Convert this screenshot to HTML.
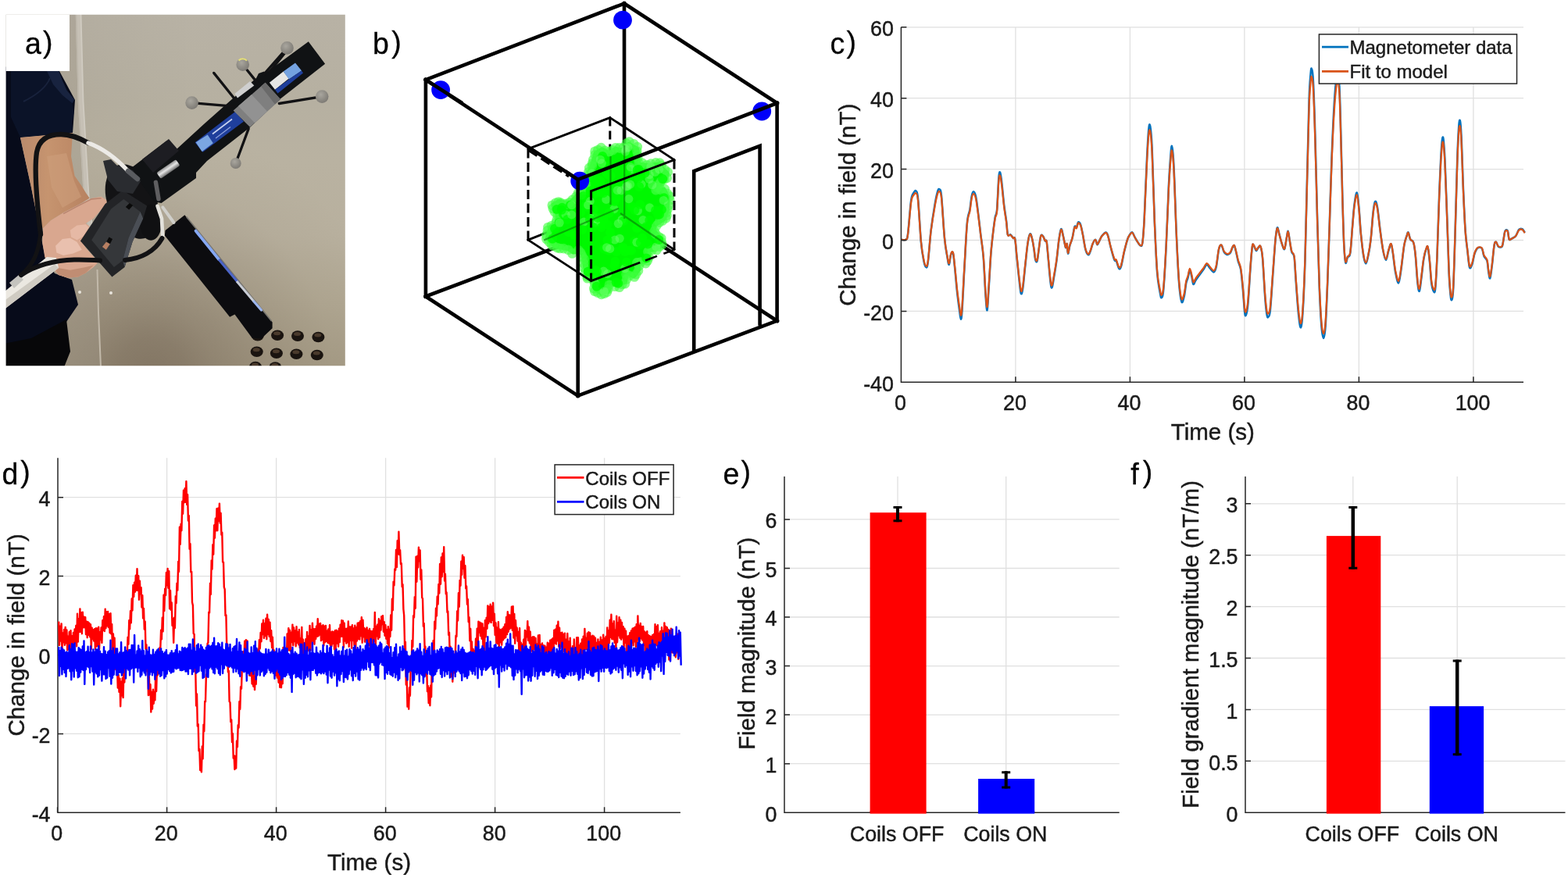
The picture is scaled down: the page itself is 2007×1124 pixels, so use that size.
<!DOCTYPE html>
<html lang="en">
<head>
<meta charset="utf-8">
<title>Figure: field nulling with coils</title>
<style>
html,body{margin:0;padding:0;background:#fff;}
body{width:2007px;height:1124px;overflow:hidden;}
svg{display:block;}
svg text{font-family:"Liberation Sans", sans-serif;fill:#1a1a1a;stroke:#1a1a1a;stroke-width:0.45px;}
</style>
</head>
<body>
<svg width="2007" height="1124" viewBox="0 0 2007 1124">
<defs><filter id="soft" x="0" y="0" width="100%" height="100%" filterUnits="userSpaceOnUse" color-interpolation-filters="sRGB"><feGaussianBlur stdDeviation="0.5"/></filter></defs>
<rect width="2007" height="1124" fill="#fff"/>
<defs>
<clipPath id="pa-clip"><rect x="7.6" y="18.8" width="434.2" height="449.4"/></clipPath>
<linearGradient id="pa-wall" gradientUnits="userSpaceOnUse" x1="0" y1="18" x2="0" y2="468"><stop offset="0" stop-color="#b8b2a5"/><stop offset="0.25" stop-color="#b6b0a1"/><stop offset="0.42" stop-color="#b9b2a1"/><stop offset="0.63" stop-color="#b8b09e"/><stop offset="0.82" stop-color="#b0a792"/><stop offset="1" stop-color="#a69c86"/></linearGradient><linearGradient id="pa-wallv" x1="0" y1="0" x2="1" y2="0"><stop offset="0" stop-color="#4a4030" stop-opacity="0.08"/><stop offset="0.3" stop-color="#4a4030" stop-opacity="0.03"/><stop offset="0.55" stop-color="#4a5030" stop-opacity="0"/><stop offset="1" stop-color="#4a5a30" stop-opacity="0"/></linearGradient>
<radialGradient id="pa-shade" cx="0.43" cy="1" r="0.68"><stop offset="0" stop-color="#6f6050" stop-opacity="0.62"/><stop offset="0.14" stop-color="#6f6050" stop-opacity="0.54"/><stop offset="0.26" stop-color="#6f6050" stop-opacity="0.4"/><stop offset="0.5" stop-color="#6f6050" stop-opacity="0.2"/><stop offset="0.75" stop-color="#6f6050" stop-opacity="0.05"/><stop offset="1" stop-color="#6f6050" stop-opacity="0"/></radialGradient>
<linearGradient id="pa-arm" x1="0" y1="0" x2="1" y2="0"><stop offset="0" stop-color="#b98a6c"/><stop offset="0.4" stop-color="#c6946f"/><stop offset="1" stop-color="#b78261"/></linearGradient>
<linearGradient id="pa-silver" x1="0" y1="0" x2="0" y2="1"><stop offset="0" stop-color="#8d8d8d"/><stop offset="0.45" stop-color="#e6e6e6"/><stop offset="1" stop-color="#6a6a6a"/></linearGradient>
<radialGradient id="pa-ball" cx="0.4" cy="0.35" r="0.7"><stop offset="0" stop-color="#a9a69e"/><stop offset="1" stop-color="#7b7872"/></radialGradient>
<filter id="pa-blur" x="-5%" y="-5%" width="110%" height="110%" color-interpolation-filters="sRGB"><feGaussianBlur stdDeviation="0.75"/></filter>
</defs>
<g id="pa" clip-path="url(#pa-clip)">
<g filter="url(#pa-blur)">
<rect x="0" y="10" width="452" height="468" fill="url(#pa-wall)"/>
<rect x="0" y="10" width="452" height="468" fill="url(#pa-wallv)"/>
<rect x="0" y="10" width="452" height="468" fill="url(#pa-shade)"/>
<path d="M89 18L97 18L101 150L108 250L114 300L124.5 340L129 470L0 470L0 18Z" fill="#a39b8c" fill-opacity="0.35"/>
<path d="M100 18L103 130L110 250L116 300" fill="none" stroke="#c6c0b5" stroke-width="6.5"/>
<path d="M97.5 18L100.5 130L107.5 250L113 300" fill="none" stroke="#bdb7ab" stroke-width="1.6"/>
<path d="M103.5 18L106.5 130L113.5 250L119 300" fill="none" stroke="#d0cbc1" stroke-width="1.8"/>
<path d="M124.5 345L126 400L129 470" fill="none" stroke="#c2b9aa" stroke-width="2"/>
<circle cx="102" cy="374" r="2" fill="#e8e4dc"/><circle cx="142" cy="375" r="2" fill="#e8e4dc"/>
<ellipse cx="329.8" cy="429.7" rx="8" ry="6.8" fill="#1a1410"/>
<ellipse cx="329.3" cy="427.2" rx="4.5" ry="2.5" fill="#4a3a2c"/>
<ellipse cx="355.1" cy="429.2" rx="8" ry="6.8" fill="#1a1410"/>
<ellipse cx="354.6" cy="426.7" rx="4.5" ry="2.5" fill="#4a3a2c"/>
<ellipse cx="381" cy="430.1" rx="8" ry="6.8" fill="#1a1410"/>
<ellipse cx="380.5" cy="427.6" rx="4.5" ry="2.5" fill="#4a3a2c"/>
<ellipse cx="407.4" cy="431.5" rx="8" ry="6.8" fill="#1a1410"/>
<ellipse cx="406.9" cy="429" rx="4.5" ry="2.5" fill="#4a3a2c"/>
<ellipse cx="328.7" cy="450.3" rx="8" ry="6.8" fill="#1a1410"/>
<ellipse cx="328.2" cy="447.8" rx="4.5" ry="2.5" fill="#4a3a2c"/>
<ellipse cx="353.9" cy="452.2" rx="8" ry="6.8" fill="#1a1410"/>
<ellipse cx="353.4" cy="449.7" rx="4.5" ry="2.5" fill="#4a3a2c"/>
<ellipse cx="379.4" cy="453.3" rx="8" ry="6.8" fill="#1a1410"/>
<ellipse cx="378.9" cy="450.8" rx="4.5" ry="2.5" fill="#4a3a2c"/>
<ellipse cx="405.8" cy="454.5" rx="8" ry="6.8" fill="#1a1410"/>
<ellipse cx="405.3" cy="452" rx="4.5" ry="2.5" fill="#4a3a2c"/>
<ellipse cx="327" cy="469.5" rx="8" ry="6.8" fill="#1a1410"/>
<ellipse cx="326.5" cy="467" rx="4.5" ry="2.5" fill="#4a3a2c"/>
<ellipse cx="352.3" cy="470" rx="8" ry="6.8" fill="#1a1410"/>
<ellipse cx="351.8" cy="467.5" rx="4.5" ry="2.5" fill="#4a3a2c"/>
<path d="M0 85L76 91L96 128L93 170L26 176L40 240L50 290L58 330L70 350L92 358L100 390L85 412L80 470L0 470Z" fill="#070b1a"/>
<path d="M14 91L75.2 91L79.4 102L85.4 115.4L95.1 127.5L92.7 132.3L94.5 144.4L92.1 158L93 170L26 176L14 150Z" fill="#0b1328"/>
<path d="M60 91L75.2 91L79.4 102L85.4 115.4L95.1 127.5L92.7 132.3L80 122L68 108Z" fill="#18233f"/>
<path d="M30 130C50 120 60 110 64 100" fill="none" stroke="#18223c" stroke-width="2"/>
<path d="M0 441L40 433L85 409L90 450L82 470L0 470Z" fill="#070709"/>
<path d="M26 176L60 173L93 170L91 200L95.5 225L104.5 238L110 247L114.7 253.7L99.8 262.4L81.1 272.3L64.9 282.3L54.9 292.3L50 290L40 240Z" fill="url(#pa-arm)"/>
<path d="M60 200L85 196L95 232L104 252L80 266L66 240Z" fill="#cd9f7c" fill-opacity="0.6"/>
<path d="M54.9 292.3L64.9 282.3L81.1 272.3L99.8 262.4L117.2 253.7L129.7 251.8L137.1 256.8L135.9 261.1L127.2 271.1L119.7 279.8L109.7 286L114.7 289.8L109.7 299.7L104.8 307.2L109.7 317.2L119.7 328.4L124.7 337.1L119.7 342.1L109.7 349.6L99.8 354.5L87.3 355.8L74.9 352L66.2 342.1L57.4 329.6L54.3 310.9Z" fill="#d9a78f"/>
<path d="M89.8 294.8L98.5 288.5L109.7 287.3L113.5 291L107.2 302.2L98.5 307.2L91.1 303.5Z" fill="#e6b9a5"/>
<path d="M71.1 314.7L79.9 306L89.8 304.7L98.5 309.7L104.8 319.7L93.5 324.6L81.1 327.1L72.4 323.4Z" fill="#e9c0ae"/>
<path d="M68.6 342.1L89.8 345.8L109.7 342.1L119.7 339.6L109.7 349.6L99.8 354.5L87.3 355.8L74.9 352Z" fill="#c08d73"/>
<path d="M81.1 273.6L99.8 263.6L117.2 254.9L129.7 253.7" fill="none" stroke="#b98670" stroke-width="1.6"/>
<ellipse cx="169" cy="258" rx="31" ry="50" fill="#131315" transform="rotate(-22 169 258)"/>
<ellipse cx="193.2" cy="284.8" rx="14" ry="23" fill="#101012"/>
<path d="M236.4 275.2L348.6 412.5L348.6 420.2L334.2 433.8L322.9 433L300.5 402.5L294.1 405.7L210.8 301.6L211.5 295Z" fill="#0c0c0f"/>
<path d="M238.5 277.5L347.5 411" fill="none" stroke="#77756f" stroke-width="1.6"/>
<path d="M250.5 295.5L280 332" fill="none" stroke="#86a8f4" stroke-width="3.6" stroke-linecap="round"/>
<path d="M280 332L305 362" fill="none" stroke="#4d66c8" stroke-width="3.2"/>
<path d="M303 360L325 386" fill="none" stroke="#c9cdd6" stroke-width="3.0"/>
<path d="M325 386L334.5 397" fill="none" stroke="#9db6ee" stroke-width="3.2" stroke-linecap="round"/>
<path d="M394.8 53.3L416.1 81.8L357 128L320 163L265 206L251 221L251 228L206.5 260L197.6 258.3L179.8 233.4L167.4 215.6L213.6 180L225.7 191.2L262 158L298.6 125.4L328 100L331 94L338 91.5L340 93.4Z" fill="#101214"/>
<path d="M182 204L216 178L229 193L196 221Z" fill="#1d1d22"/>
<rect x="-15" y="-4.8" width="30" height="9.6" rx="2" fill="url(#pa-silver)" transform="translate(215.4 216.5) rotate(-34.5)"/>
<path d="M199.4 233.4L203 254.7" fill="none" stroke="#5e5e60" stroke-width="5.5" stroke-linecap="round"/>
<path d="M201.5 263.6L207 280L208.3 304.6" fill="none" stroke="#e4e2dc" stroke-width="4.6" stroke-linecap="round"/>
<path d="M208.3 265.4L222.5 285" fill="none" stroke="#d0cfca" stroke-width="4" stroke-linecap="round"/>
<path d="M249.7 182.3L259.5 194.8L312 155.5L301 143Z" fill="#1f3f9c"/>
<path d="M250.6 182.3L258.6 193.9L272.8 183.2L265.7 172.6Z" fill="#7ba6e2"/>
<path d="M272 171.5L297 152.5" fill="none" stroke="#c9d4f0" stroke-width="1.6"/>
<path d="M276 177L295 162.5" fill="none" stroke="#8fa2dc" stroke-width="1.2"/>
<path d="M344.9 105.8L352 114.7L369.8 100.5L362.7 91.6Z" fill="#e6e6e4"/>
<path d="M362.7 91.6L369.8 101.4L386 90.5L378 80.5Z" fill="#74a2e0"/>
<path d="M352 114.7L355.5 119.5L388 93.5L386 90.5L369.8 101.4Z" fill="#1f3f9c"/>
<path d="M367.5 61.4L337.8 95.2" fill="none" stroke="#121214" stroke-width="3.3" stroke-linecap="round"/>
<path d="M310.7 82.7L330.7 107.6" fill="none" stroke="#121214" stroke-width="3.3" stroke-linecap="round"/>
<path d="M245.6 131.6L298.6 136.1" fill="none" stroke="#121214" stroke-width="3.3" stroke-linecap="round"/>
<path d="M412.2 123.6L357.3 132.5" fill="none" stroke="#121214" stroke-width="3.3" stroke-linecap="round"/>
<path d="M301.7 209L318.2 164.6" fill="none" stroke="#121214" stroke-width="3.3" stroke-linecap="round"/>
<path d="M273.7 93.4L302.2 129" fill="none" stroke="#121214" stroke-width="3.3" stroke-linecap="round"/>
<path d="M371 60L345 92" fill="none" stroke="#121214" stroke-width="3.3" stroke-linecap="round"/>
<path d="M300.4 120.1L320 104.1L325.3 109.4L304 125.4Z" fill="#cfcfcf"/>
<path d="M298.6 141.4L339.6 105.8L359.1 127.2L320 162.8Z" fill="#7f7f7f"/>
<path d="M305 135.7L322 121L342 142.5L326 157.2Z" fill="#929292"/>
<path d="M334 110.5L339.6 105.8L359.1 127.2L352 133.5Z" fill="#6a6a6a"/>
<circle cx="367.5" cy="61.4" r="8.3" fill="url(#pa-ball)"/>
<circle cx="310.7" cy="82.7" r="8.3" fill="url(#pa-ball)"/>
<circle cx="245.6" cy="131.6" r="8.3" fill="url(#pa-ball)"/>
<circle cx="412.2" cy="123.6" r="8.3" fill="url(#pa-ball)"/>
<circle cx="301.7" cy="209" r="7.0" fill="url(#pa-ball)"/>
<path d="M305.5 77.5A7.3 7.3 0 0 1 316 77.6" stroke="#e6e07a" stroke-width="2" fill="none"/>
<path d="M102.9 308.5L134.6 261.1L157.1 243.7L188.2 263.6L183.2 279.8L169.5 309.7L159.6 342.1L143.4 354.5Z" fill="#232427"/>
<path d="M117.2 307.2L142.1 267.4L158.3 254.9L179.5 271.1L164.5 304.7L157.1 333.4L145.9 342.1Z" fill="#35373a"/>
<path d="M179.5 271.1L183.2 279.8L169.5 309.7L159.6 342.1L157.1 333.4L164.5 304.7Z" fill="#4a4e55"/>
<path d="M130.9 315.9L135.9 309.7L140.9 312.2L135.9 319.7Z" fill="#b77f62"/>
<path d="M136.5 309.1L139.6 303.5L144 306L140.9 312.2Z" fill="#0a0a0a"/>
<path d="M160.8 264.9L165.8 259.9L170.1 263L165.2 268.6Z" fill="#0a0a0a"/>
<path d="M132 206L142 204L150 212L170 218L180 232L170 248L150 245L138 230Z" fill="#2a2c30"/>
<path d="M0 378L22 360L60 329L72 330L75 343L0 400Z" fill="#ebe8e1"/>
<path d="M0 389L70 338L75 343L0 400Z" fill="#cfcbc2"/>
<path d="M12 362L24 352L30 358L18 369Z" fill="#c4c3be"/>
<path d="M52 300C46 250 44 215 47 195C50 178 62 172 78 172C92 172 104 178 113 183" fill="none" stroke="#121214" stroke-width="6.3" stroke-linecap="round" stroke-linejoin="round"/>
<path d="M113 183C132 190 150 204 164 219" fill="none" stroke="#eceae6" stroke-width="5.4" stroke-linecap="round" stroke-linejoin="round"/>
<path d="M164 219L176 229" fill="none" stroke="#5a5c60" stroke-width="6.5" stroke-linecap="round" stroke-linejoin="round"/>
<path d="M52 298C50 320 44 338 27 352" fill="none" stroke="#121214" stroke-width="5.4" stroke-linecap="round" stroke-linejoin="round"/>
<path d="M27 352C45 340 70 333 95 332.5C108 332 118 333 128 333.5" fill="none" stroke="#121214" stroke-width="6" stroke-linecap="round" stroke-linejoin="round"/>
<path d="M160 333C180 331 198 322 207.5 305" fill="none" stroke="#121214" stroke-width="6" stroke-linecap="round" stroke-linejoin="round"/>
</g>
<rect x="0" y="10" width="89" height="81" fill="#fff"/>
</g>
<g filter="url(#soft)">
<g id="pb" fill="none" stroke="#000" stroke-linecap="square">
<path d="M544.9 379.5L799.8 283.6M799.8 283.6L994.6 410.7M799 4.5L799.2 283" stroke-width="4.6"/>
<path d="M676 307.1L780.8 265.6M780.8 265.6L863 319.6" stroke-width="2.8"/>
<path d="M780.8 150.6L780.8 265.6" stroke-width="3" stroke-dasharray="11 6" stroke-linecap="butt"/>
<g stroke="none">
<path d="M805.2 185.5L814.8 191.3L816.7 210.5L826.3 212.4L841.7 211.5L853.2 222L851.3 229.7L841.7 237.4L837.9 245.1L849.4 243.2L854.2 252.8L853.2 268.1L849.4 279.7L837.9 287.4L835.9 295.1L843.6 304.7L846.5 312.4L839.8 318.1L828.2 320L830.2 327.7L824.4 334.5L814.8 333.5L816.7 345L811 352.7L801.3 348.9L799.4 360.4L791.7 364.2L780.2 362.3L778.3 371.9L770.6 374.8L762.9 370L761 356.6L753.3 354.6L749.5 341.2L747.5 325.8L741.8 320L734.1 322L728.3 318.1L711 314.3L701.4 304.7L705.3 291.2L712.9 285.4L714.9 275.8L711 268.1L709.1 262.4L716.8 258.5L728.3 262.4L737.9 252.8L741.8 247L749.5 245.1L753.3 225.9L759.1 210.5L762.9 197L770.6 192.2L780.2 197L787.9 191.3L797.5 193.2L801.3 187.4Z" fill="#00f800" stroke="#1cfa1c" stroke-width="7" stroke-linejoin="round"/>
<circle cx="805.4" cy="181.5" r="6.3" fill="#3dff3d" fill-opacity="0.62"/><circle cx="811.2" cy="184.3" r="6.3" fill="#3dff3d" fill-opacity="0.62"/><circle cx="815.8" cy="188" r="6.3" fill="#3dff3d" fill-opacity="0.62"/><circle cx="815.2" cy="193.3" r="6.3" fill="#3dff3d" fill-opacity="0.62"/><circle cx="815.6" cy="198.1" r="6.3" fill="#3dff3d" fill-opacity="0.62"/><circle cx="816.2" cy="202.2" r="6.3" fill="#3dff3d" fill-opacity="0.62"/><circle cx="817.6" cy="208.9" r="6.3" fill="#3dff3d" fill-opacity="0.62"/><circle cx="821.8" cy="208.5" r="6.3" fill="#3dff3d" fill-opacity="0.62"/><circle cx="828" cy="211.2" r="6.3" fill="#3dff3d" fill-opacity="0.62"/><circle cx="833.2" cy="209.6" r="6.3" fill="#3dff3d" fill-opacity="0.62"/><circle cx="839.4" cy="208.4" r="6.3" fill="#3dff3d" fill-opacity="0.62"/><circle cx="844.4" cy="208.6" r="6.3" fill="#3dff3d" fill-opacity="0.62"/><circle cx="846.7" cy="211.9" r="6.3" fill="#3dff3d" fill-opacity="0.62"/><circle cx="851" cy="217.2" r="6.3" fill="#3dff3d" fill-opacity="0.62"/><circle cx="854.7" cy="220.3" r="6.3" fill="#3dff3d" fill-opacity="0.62"/><circle cx="853.8" cy="227.7" r="6.3" fill="#3dff3d" fill-opacity="0.62"/><circle cx="850.3" cy="229.6" r="6.3" fill="#3dff3d" fill-opacity="0.62"/><circle cx="845.8" cy="232.6" r="6.3" fill="#3dff3d" fill-opacity="0.62"/><circle cx="844" cy="235.8" r="6.3" fill="#3dff3d" fill-opacity="0.62"/><circle cx="841.1" cy="240.1" r="6.3" fill="#3dff3d" fill-opacity="0.62"/><circle cx="839.5" cy="243.4" r="6.3" fill="#3dff3d" fill-opacity="0.62"/><circle cx="846.3" cy="243.4" r="6.3" fill="#3dff3d" fill-opacity="0.62"/><circle cx="850.9" cy="242.1" r="6.3" fill="#3dff3d" fill-opacity="0.62"/><circle cx="854.1" cy="247.8" r="6.3" fill="#3dff3d" fill-opacity="0.62"/><circle cx="857" cy="251.3" r="6.3" fill="#3dff3d" fill-opacity="0.62"/><circle cx="857.3" cy="256.2" r="6.3" fill="#3dff3d" fill-opacity="0.62"/><circle cx="855.6" cy="263.1" r="6.3" fill="#3dff3d" fill-opacity="0.62"/><circle cx="854.6" cy="267.7" r="6.3" fill="#3dff3d" fill-opacity="0.62"/><circle cx="853.1" cy="272.1" r="6.3" fill="#3dff3d" fill-opacity="0.62"/><circle cx="853.5" cy="275.9" r="6.3" fill="#3dff3d" fill-opacity="0.62"/><circle cx="852.4" cy="279.2" r="6.3" fill="#3dff3d" fill-opacity="0.62"/><circle cx="848" cy="282.5" r="6.3" fill="#3dff3d" fill-opacity="0.62"/><circle cx="843.8" cy="284.8" r="6.3" fill="#3dff3d" fill-opacity="0.62"/><circle cx="840.4" cy="288.7" r="6.3" fill="#3dff3d" fill-opacity="0.62"/><circle cx="837.5" cy="295.9" r="6.3" fill="#3dff3d" fill-opacity="0.62"/><circle cx="839.2" cy="299.3" r="6.3" fill="#3dff3d" fill-opacity="0.62"/><circle cx="843.3" cy="303.3" r="6.3" fill="#3dff3d" fill-opacity="0.62"/><circle cx="846.3" cy="305" r="6.3" fill="#3dff3d" fill-opacity="0.62"/><circle cx="846.8" cy="309.8" r="6.3" fill="#3dff3d" fill-opacity="0.62"/><circle cx="847.4" cy="313.3" r="6.3" fill="#3dff3d" fill-opacity="0.62"/><circle cx="844.3" cy="315.5" r="6.3" fill="#3dff3d" fill-opacity="0.62"/><circle cx="840.5" cy="320" r="6.3" fill="#3dff3d" fill-opacity="0.62"/><circle cx="834.7" cy="319.8" r="6.3" fill="#3dff3d" fill-opacity="0.62"/><circle cx="829.4" cy="322.2" r="6.3" fill="#3dff3d" fill-opacity="0.62"/><circle cx="830.6" cy="329.2" r="6.3" fill="#3dff3d" fill-opacity="0.62"/><circle cx="828.8" cy="333.7" r="6.3" fill="#3dff3d" fill-opacity="0.62"/><circle cx="826.5" cy="337.1" r="6.3" fill="#3dff3d" fill-opacity="0.62"/><circle cx="820.2" cy="335.5" r="6.3" fill="#3dff3d" fill-opacity="0.62"/><circle cx="815.4" cy="336.2" r="6.3" fill="#3dff3d" fill-opacity="0.62"/><circle cx="817.9" cy="340.4" r="6.3" fill="#3dff3d" fill-opacity="0.62"/><circle cx="817" cy="346.5" r="6.3" fill="#3dff3d" fill-opacity="0.62"/><circle cx="814.1" cy="351.1" r="6.3" fill="#3dff3d" fill-opacity="0.62"/><circle cx="812" cy="354.5" r="6.3" fill="#3dff3d" fill-opacity="0.62"/><circle cx="805.6" cy="352.9" r="6.3" fill="#3dff3d" fill-opacity="0.62"/><circle cx="801.5" cy="351.3" r="6.3" fill="#3dff3d" fill-opacity="0.62"/><circle cx="802" cy="357.6" r="6.3" fill="#3dff3d" fill-opacity="0.62"/><circle cx="799.9" cy="363.3" r="6.3" fill="#3dff3d" fill-opacity="0.62"/><circle cx="796.3" cy="364" r="6.3" fill="#3dff3d" fill-opacity="0.62"/><circle cx="792.9" cy="367.7" r="6.3" fill="#3dff3d" fill-opacity="0.62"/><circle cx="786.9" cy="366.8" r="6.3" fill="#3dff3d" fill-opacity="0.62"/><circle cx="779.8" cy="364.8" r="6.3" fill="#3dff3d" fill-opacity="0.62"/><circle cx="778.1" cy="370.3" r="6.3" fill="#3dff3d" fill-opacity="0.62"/><circle cx="777" cy="373.9" r="6.3" fill="#3dff3d" fill-opacity="0.62"/><circle cx="773.4" cy="375.7" r="6.3" fill="#3dff3d" fill-opacity="0.62"/><circle cx="769.7" cy="376.9" r="6.3" fill="#3dff3d" fill-opacity="0.62"/><circle cx="764.9" cy="374.6" r="6.3" fill="#3dff3d" fill-opacity="0.62"/><circle cx="761.2" cy="372.7" r="6.3" fill="#3dff3d" fill-opacity="0.62"/><circle cx="760.3" cy="369.3" r="6.3" fill="#3dff3d" fill-opacity="0.62"/><circle cx="761.1" cy="362.9" r="6.3" fill="#3dff3d" fill-opacity="0.62"/><circle cx="759.6" cy="358.7" r="6.3" fill="#3dff3d" fill-opacity="0.62"/><circle cx="751.9" cy="356.2" r="6.3" fill="#3dff3d" fill-opacity="0.62"/><circle cx="751.7" cy="353.7" r="6.3" fill="#3dff3d" fill-opacity="0.62"/><circle cx="749.5" cy="347.8" r="6.3" fill="#3dff3d" fill-opacity="0.62"/><circle cx="747.2" cy="342.2" r="6.3" fill="#3dff3d" fill-opacity="0.62"/><circle cx="747.2" cy="337.3" r="6.3" fill="#3dff3d" fill-opacity="0.62"/><circle cx="747.7" cy="331.8" r="6.3" fill="#3dff3d" fill-opacity="0.62"/><circle cx="745.1" cy="328.4" r="6.3" fill="#3dff3d" fill-opacity="0.62"/><circle cx="743.3" cy="323.5" r="6.3" fill="#3dff3d" fill-opacity="0.62"/><circle cx="740.4" cy="320.2" r="6.3" fill="#3dff3d" fill-opacity="0.62"/><circle cx="732.4" cy="324.5" r="6.3" fill="#3dff3d" fill-opacity="0.62"/><circle cx="727.3" cy="319.8" r="6.3" fill="#3dff3d" fill-opacity="0.62"/><circle cx="721.4" cy="318.1" r="6.3" fill="#3dff3d" fill-opacity="0.62"/><circle cx="716.7" cy="318" r="6.3" fill="#3dff3d" fill-opacity="0.62"/><circle cx="713.1" cy="317.1" r="6.3" fill="#3dff3d" fill-opacity="0.62"/><circle cx="708.1" cy="314.7" r="6.3" fill="#3dff3d" fill-opacity="0.62"/><circle cx="706" cy="313.3" r="6.3" fill="#3dff3d" fill-opacity="0.62"/><circle cx="702.8" cy="309.5" r="6.3" fill="#3dff3d" fill-opacity="0.62"/><circle cx="699.4" cy="306" r="6.3" fill="#3dff3d" fill-opacity="0.62"/><circle cx="699.3" cy="300.9" r="6.3" fill="#3dff3d" fill-opacity="0.62"/><circle cx="700.9" cy="295.1" r="6.3" fill="#3dff3d" fill-opacity="0.62"/><circle cx="701.4" cy="291" r="6.3" fill="#3dff3d" fill-opacity="0.62"/><circle cx="706" cy="289" r="6.3" fill="#3dff3d" fill-opacity="0.62"/><circle cx="711.6" cy="285.5" r="6.3" fill="#3dff3d" fill-opacity="0.62"/><circle cx="712.6" cy="281.8" r="6.3" fill="#3dff3d" fill-opacity="0.62"/><circle cx="713.6" cy="275.4" r="6.3" fill="#3dff3d" fill-opacity="0.62"/><circle cx="709.8" cy="271.1" r="6.3" fill="#3dff3d" fill-opacity="0.62"/><circle cx="707.8" cy="267" r="6.3" fill="#3dff3d" fill-opacity="0.62"/><circle cx="706.8" cy="262.7" r="6.3" fill="#3dff3d" fill-opacity="0.62"/><circle cx="711.3" cy="259.7" r="6.3" fill="#3dff3d" fill-opacity="0.62"/><circle cx="714.8" cy="258.5" r="6.3" fill="#3dff3d" fill-opacity="0.62"/><circle cx="717.5" cy="259.5" r="6.3" fill="#3dff3d" fill-opacity="0.62"/><circle cx="723.4" cy="261.1" r="6.3" fill="#3dff3d" fill-opacity="0.62"/><circle cx="727" cy="261.7" r="6.3" fill="#3dff3d" fill-opacity="0.62"/><circle cx="728.9" cy="259.2" r="6.3" fill="#3dff3d" fill-opacity="0.62"/><circle cx="732.6" cy="255.9" r="6.3" fill="#3dff3d" fill-opacity="0.62"/><circle cx="737.5" cy="251.6" r="6.3" fill="#3dff3d" fill-opacity="0.62"/><circle cx="740.1" cy="247" r="6.3" fill="#3dff3d" fill-opacity="0.62"/><circle cx="748.8" cy="243.1" r="6.3" fill="#3dff3d" fill-opacity="0.62"/><circle cx="748.3" cy="238.1" r="6.3" fill="#3dff3d" fill-opacity="0.62"/><circle cx="751.2" cy="234.7" r="6.3" fill="#3dff3d" fill-opacity="0.62"/><circle cx="750.4" cy="229.8" r="6.3" fill="#3dff3d" fill-opacity="0.62"/><circle cx="753.4" cy="224.4" r="6.3" fill="#3dff3d" fill-opacity="0.62"/><circle cx="753.3" cy="220.2" r="6.3" fill="#3dff3d" fill-opacity="0.62"/><circle cx="754.3" cy="214.9" r="6.3" fill="#3dff3d" fill-opacity="0.62"/><circle cx="757.8" cy="212.5" r="6.3" fill="#3dff3d" fill-opacity="0.62"/><circle cx="758.2" cy="209.2" r="6.3" fill="#3dff3d" fill-opacity="0.62"/><circle cx="759.3" cy="204.4" r="6.3" fill="#3dff3d" fill-opacity="0.62"/><circle cx="761.6" cy="198.2" r="6.3" fill="#3dff3d" fill-opacity="0.62"/><circle cx="761.5" cy="193.8" r="6.3" fill="#3dff3d" fill-opacity="0.62"/><circle cx="765.5" cy="192" r="6.3" fill="#3dff3d" fill-opacity="0.62"/><circle cx="769.5" cy="189.1" r="6.3" fill="#3dff3d" fill-opacity="0.62"/><circle cx="774.2" cy="192.8" r="6.3" fill="#3dff3d" fill-opacity="0.62"/><circle cx="779.7" cy="194.2" r="6.3" fill="#3dff3d" fill-opacity="0.62"/><circle cx="784.2" cy="192.2" r="6.3" fill="#3dff3d" fill-opacity="0.62"/><circle cx="787.8" cy="189.3" r="6.3" fill="#3dff3d" fill-opacity="0.62"/><circle cx="792.9" cy="189.4" r="6.3" fill="#3dff3d" fill-opacity="0.62"/><circle cx="797.9" cy="189.1" r="6.3" fill="#3dff3d" fill-opacity="0.62"/><circle cx="801.7" cy="183.6" r="6.3" fill="#3dff3d" fill-opacity="0.62"/><circle cx="721.3" cy="274.5" r="6" fill="#00ff00" fill-opacity="0.8"/><circle cx="815.1" cy="292" r="6" fill="#00ff00" fill-opacity="0.8"/><circle cx="747.4" cy="284" r="5.6" fill="#7dff7d" fill-opacity="0.4"/><circle cx="786.3" cy="339.9" r="6" fill="#00ff00" fill-opacity="0.8"/><circle cx="710" cy="292.8" r="6" fill="#00ff00" fill-opacity="0.8"/><circle cx="823.1" cy="281.7" r="5.6" fill="#7dff7d" fill-opacity="0.4"/><circle cx="787.4" cy="334.8" r="6" fill="#00ff00" fill-opacity="0.8"/><circle cx="846.9" cy="268.2" r="6" fill="#00ff00" fill-opacity="0.8"/><circle cx="796" cy="281.3" r="5.6" fill="#7dff7d" fill-opacity="0.4"/><circle cx="779" cy="320.7" r="6" fill="#00ff00" fill-opacity="0.8"/><circle cx="768.8" cy="287.1" r="6" fill="#00ff00" fill-opacity="0.8"/><circle cx="773.2" cy="373" r="5.6" fill="#7dff7d" fill-opacity="0.4"/><circle cx="712.7" cy="267.9" r="6" fill="#00ff00" fill-opacity="0.8"/><circle cx="804.1" cy="205" r="6" fill="#00ff00" fill-opacity="0.8"/><circle cx="759.6" cy="277.4" r="5.6" fill="#7dff7d" fill-opacity="0.4"/><circle cx="719.4" cy="265.7" r="6" fill="#00ff00" fill-opacity="0.8"/><circle cx="779.6" cy="246.3" r="6" fill="#00ff00" fill-opacity="0.8"/><circle cx="786.1" cy="267.6" r="5.6" fill="#7dff7d" fill-opacity="0.4"/><circle cx="798" cy="282.7" r="6" fill="#00ff00" fill-opacity="0.8"/><circle cx="763.7" cy="366.7" r="6" fill="#00ff00" fill-opacity="0.8"/><circle cx="831.1" cy="229.3" r="5.6" fill="#7dff7d" fill-opacity="0.4"/><circle cx="788.9" cy="322.3" r="6" fill="#00ff00" fill-opacity="0.8"/><circle cx="808.9" cy="264.4" r="6" fill="#00ff00" fill-opacity="0.8"/><circle cx="799.7" cy="343.6" r="5.6" fill="#7dff7d" fill-opacity="0.4"/><circle cx="769.1" cy="246.3" r="6" fill="#00ff00" fill-opacity="0.8"/><circle cx="781.5" cy="225.1" r="6" fill="#00ff00" fill-opacity="0.8"/><circle cx="821" cy="235.9" r="5.6" fill="#7dff7d" fill-opacity="0.4"/><circle cx="776.9" cy="212.4" r="6" fill="#00ff00" fill-opacity="0.8"/><circle cx="816.5" cy="290.9" r="6" fill="#00ff00" fill-opacity="0.8"/><circle cx="724.2" cy="274.8" r="5.6" fill="#7dff7d" fill-opacity="0.4"/><circle cx="831.1" cy="265.8" r="6" fill="#00ff00" fill-opacity="0.8"/><circle cx="776.1" cy="350.5" r="6" fill="#00ff00" fill-opacity="0.8"/><circle cx="758.8" cy="281.5" r="5.6" fill="#7dff7d" fill-opacity="0.4"/><circle cx="812" cy="308.7" r="6" fill="#00ff00" fill-opacity="0.8"/><circle cx="760.7" cy="248.1" r="6" fill="#00ff00" fill-opacity="0.8"/><circle cx="839.8" cy="316" r="5.6" fill="#7dff7d" fill-opacity="0.4"/><circle cx="741.8" cy="271.6" r="6" fill="#00ff00" fill-opacity="0.8"/><circle cx="718.8" cy="268.7" r="6" fill="#00ff00" fill-opacity="0.8"/><circle cx="744.6" cy="249.9" r="5.6" fill="#7dff7d" fill-opacity="0.4"/><circle cx="772.6" cy="280.7" r="6" fill="#00ff00" fill-opacity="0.8"/><circle cx="726.1" cy="281.1" r="6" fill="#00ff00" fill-opacity="0.8"/><circle cx="791.4" cy="286.3" r="5.6" fill="#7dff7d" fill-opacity="0.4"/><circle cx="819.4" cy="313.3" r="6" fill="#00ff00" fill-opacity="0.8"/><circle cx="758.2" cy="243.5" r="6" fill="#00ff00" fill-opacity="0.8"/><circle cx="815" cy="310.2" r="5.6" fill="#7dff7d" fill-opacity="0.4"/><circle cx="843.4" cy="306.9" r="6" fill="#00ff00" fill-opacity="0.8"/><circle cx="715.7" cy="285.1" r="6" fill="#00ff00" fill-opacity="0.8"/><circle cx="777.7" cy="350.6" r="5.6" fill="#7dff7d" fill-opacity="0.4"/><circle cx="791.2" cy="362.7" r="6" fill="#00ff00" fill-opacity="0.8"/><circle cx="808" cy="320.8" r="6" fill="#00ff00" fill-opacity="0.8"/><circle cx="786.8" cy="307" r="5.6" fill="#7dff7d" fill-opacity="0.4"/><circle cx="798.3" cy="318.1" r="6" fill="#00ff00" fill-opacity="0.8"/><circle cx="777.4" cy="287.5" r="6" fill="#00ff00" fill-opacity="0.8"/><circle cx="804" cy="188.8" r="5.6" fill="#7dff7d" fill-opacity="0.4"/><circle cx="817.1" cy="228" r="6" fill="#00ff00" fill-opacity="0.8"/><circle cx="815.8" cy="218.1" r="6" fill="#00ff00" fill-opacity="0.8"/><circle cx="775.9" cy="255.4" r="5.6" fill="#7dff7d" fill-opacity="0.4"/><circle cx="773.3" cy="318.8" r="6" fill="#00ff00" fill-opacity="0.8"/><circle cx="822.2" cy="304.7" r="6" fill="#00ff00" fill-opacity="0.8"/><circle cx="801.1" cy="191.2" r="5.6" fill="#7dff7d" fill-opacity="0.4"/><circle cx="818.2" cy="239" r="6" fill="#00ff00" fill-opacity="0.8"/><circle cx="806.1" cy="320.5" r="6" fill="#00ff00" fill-opacity="0.8"/><circle cx="806.7" cy="236.1" r="5.6" fill="#7dff7d" fill-opacity="0.4"/><circle cx="779.7" cy="272.7" r="6" fill="#00ff00" fill-opacity="0.8"/><circle cx="771.2" cy="199.9" r="6" fill="#00ff00" fill-opacity="0.8"/><circle cx="843.7" cy="216.9" r="5.6" fill="#7dff7d" fill-opacity="0.4"/><circle cx="768.3" cy="231.5" r="6" fill="#00ff00" fill-opacity="0.8"/><circle cx="727.8" cy="297.3" r="6" fill="#00ff00" fill-opacity="0.8"/><circle cx="716.1" cy="285.2" r="5.6" fill="#7dff7d" fill-opacity="0.4"/><circle cx="831.3" cy="282" r="6" fill="#00ff00" fill-opacity="0.8"/><circle cx="768.6" cy="238.5" r="6" fill="#00ff00" fill-opacity="0.8"/><circle cx="755.2" cy="257.6" r="5.6" fill="#7dff7d" fill-opacity="0.4"/><circle cx="753.3" cy="265" r="6" fill="#00ff00" fill-opacity="0.8"/><circle cx="778.8" cy="214.9" r="6" fill="#00ff00" fill-opacity="0.8"/><circle cx="816.4" cy="269.8" r="5.6" fill="#7dff7d" fill-opacity="0.4"/><circle cx="819.8" cy="310.5" r="6" fill="#00ff00" fill-opacity="0.8"/><circle cx="772.2" cy="247.2" r="6" fill="#00ff00" fill-opacity="0.8"/><circle cx="803.4" cy="238.2" r="5.6" fill="#7dff7d" fill-opacity="0.4"/><circle cx="786.6" cy="257.9" r="6" fill="#00ff00" fill-opacity="0.8"/><circle cx="776.4" cy="221.2" r="6" fill="#00ff00" fill-opacity="0.8"/><circle cx="768.4" cy="204.3" r="5.6" fill="#7dff7d" fill-opacity="0.4"/><circle cx="788.7" cy="361.6" r="6" fill="#00ff00" fill-opacity="0.8"/><circle cx="819.3" cy="261.8" r="6" fill="#00ff00" fill-opacity="0.8"/><circle cx="762.3" cy="285.2" r="5.6" fill="#7dff7d" fill-opacity="0.4"/><circle cx="756" cy="246.1" r="6" fill="#00ff00" fill-opacity="0.8"/><circle cx="777.5" cy="307.4" r="6" fill="#00ff00" fill-opacity="0.8"/><circle cx="838.5" cy="220.4" r="5.6" fill="#7dff7d" fill-opacity="0.4"/><circle cx="759.9" cy="268.7" r="6" fill="#00ff00" fill-opacity="0.8"/><circle cx="844.1" cy="274.5" r="6" fill="#00ff00" fill-opacity="0.8"/><circle cx="780.7" cy="318.4" r="5.6" fill="#7dff7d" fill-opacity="0.4"/><circle cx="801.9" cy="335.8" r="6" fill="#00ff00" fill-opacity="0.8"/><circle cx="769.7" cy="290.9" r="6" fill="#00ff00" fill-opacity="0.8"/><circle cx="801.6" cy="238.8" r="5.6" fill="#7dff7d" fill-opacity="0.4"/><circle cx="800" cy="321.9" r="6" fill="#00ff00" fill-opacity="0.8"/><circle cx="781.1" cy="297.6" r="6" fill="#00ff00" fill-opacity="0.8"/><circle cx="757.9" cy="222" r="5.6" fill="#7dff7d" fill-opacity="0.4"/><circle cx="743.2" cy="271.8" r="6" fill="#00ff00" fill-opacity="0.8"/><circle cx="842.1" cy="274.9" r="6" fill="#00ff00" fill-opacity="0.8"/><circle cx="776.6" cy="316.8" r="5.6" fill="#7dff7d" fill-opacity="0.4"/><circle cx="763.3" cy="229.1" r="6" fill="#00ff00" fill-opacity="0.8"/><circle cx="749.4" cy="263.4" r="6" fill="#00ff00" fill-opacity="0.8"/><circle cx="807.9" cy="216.6" r="5.6" fill="#7dff7d" fill-opacity="0.4"/><circle cx="827.3" cy="330.4" r="6" fill="#00ff00" fill-opacity="0.8"/><circle cx="777.7" cy="218.1" r="6" fill="#00ff00" fill-opacity="0.8"/><circle cx="831.2" cy="223.5" r="5.6" fill="#7dff7d" fill-opacity="0.4"/><circle cx="776.2" cy="214.3" r="6" fill="#00ff00" fill-opacity="0.8"/><circle cx="729.9" cy="262.7" r="6" fill="#00ff00" fill-opacity="0.8"/><circle cx="804.8" cy="254.6" r="5.6" fill="#7dff7d" fill-opacity="0.4"/><circle cx="755.5" cy="244.7" r="6" fill="#00ff00" fill-opacity="0.8"/><circle cx="752.6" cy="347.8" r="6" fill="#00ff00" fill-opacity="0.8"/><circle cx="831.6" cy="265.9" r="5.6" fill="#7dff7d" fill-opacity="0.4"/><circle cx="761.8" cy="345.7" r="6" fill="#00ff00" fill-opacity="0.8"/><circle cx="848.2" cy="229" r="6" fill="#00ff00" fill-opacity="0.8"/><circle cx="731.7" cy="274.9" r="5.6" fill="#7dff7d" fill-opacity="0.4"/><circle cx="757.6" cy="227.8" r="6" fill="#00ff00" fill-opacity="0.8"/><circle cx="765" cy="278.7" r="6" fill="#00ff00" fill-opacity="0.8"/><circle cx="795.1" cy="243.9" r="5.6" fill="#7dff7d" fill-opacity="0.4"/><circle cx="746.3" cy="251.1" r="6" fill="#00ff00" fill-opacity="0.8"/><circle cx="812.5" cy="269" r="6" fill="#00ff00" fill-opacity="0.8"/><circle cx="731.8" cy="262.6" r="5.6" fill="#7dff7d" fill-opacity="0.4"/><circle cx="797.3" cy="316.7" r="6" fill="#00ff00" fill-opacity="0.8"/><circle cx="804.8" cy="200.4" r="6" fill="#00ff00" fill-opacity="0.8"/><circle cx="834.8" cy="236.7" r="5.6" fill="#7dff7d" fill-opacity="0.4"/><circle cx="788.3" cy="253.4" r="6" fill="#00ff00" fill-opacity="0.8"/><circle cx="817.3" cy="216.8" r="6" fill="#00ff00" fill-opacity="0.8"/><circle cx="790.2" cy="243.6" r="5.6" fill="#7dff7d" fill-opacity="0.4"/><circle cx="778.2" cy="223.6" r="6" fill="#00ff00" fill-opacity="0.8"/><circle cx="829.3" cy="312.4" r="6" fill="#00ff00" fill-opacity="0.8"/><circle cx="772.6" cy="347.2" r="5.6" fill="#7dff7d" fill-opacity="0.4"/><circle cx="849.9" cy="253.2" r="6" fill="#00ff00" fill-opacity="0.8"/><circle cx="839.1" cy="269.4" r="6" fill="#00ff00" fill-opacity="0.8"/><circle cx="793.2" cy="305.3" r="5.6" fill="#7dff7d" fill-opacity="0.4"/><circle cx="735.3" cy="301" r="6" fill="#00ff00" fill-opacity="0.8"/><circle cx="802.7" cy="217.7" r="6" fill="#00ff00" fill-opacity="0.8"/><circle cx="807.2" cy="213.9" r="5.6" fill="#7dff7d" fill-opacity="0.4"/><circle cx="827" cy="290.2" r="6" fill="#00ff00" fill-opacity="0.8"/><circle cx="759.1" cy="290.7" r="6" fill="#00ff00" fill-opacity="0.8"/><circle cx="800.5" cy="194.1" r="5.6" fill="#7dff7d" fill-opacity="0.4"/><circle cx="761.6" cy="234.5" r="6" fill="#00ff00" fill-opacity="0.8"/><circle cx="745.1" cy="294.1" r="6" fill="#00ff00" fill-opacity="0.8"/><circle cx="752.7" cy="262.5" r="5.6" fill="#7dff7d" fill-opacity="0.4"/><circle cx="815.6" cy="217.8" r="6" fill="#00ff00" fill-opacity="0.8"/><circle cx="764" cy="347.5" r="6" fill="#00ff00" fill-opacity="0.8"/><circle cx="770.3" cy="209.1" r="5.6" fill="#7dff7d" fill-opacity="0.4"/><circle cx="707.1" cy="305.8" r="6" fill="#00ff00" fill-opacity="0.8"/><circle cx="755" cy="281.1" r="6" fill="#00ff00" fill-opacity="0.8"/><circle cx="849.3" cy="256.5" r="5.6" fill="#7dff7d" fill-opacity="0.4"/><circle cx="825.4" cy="221.7" r="6" fill="#00ff00" fill-opacity="0.8"/><circle cx="760.7" cy="353" r="6" fill="#00ff00" fill-opacity="0.8"/><circle cx="832.8" cy="213.4" r="5.6" fill="#7dff7d" fill-opacity="0.4"/>
</g>
<path d="M696 307.5L792 266.7M794 273L853 313M799.2 186L799.2 280M781.5 200L781.5 262" stroke="#067806" stroke-opacity="0.6" stroke-width="2.2" stroke-linecap="butt"/>
<path d="M799 4.5L544.9 102.1M799 4.5L994.6 132M544.9 102.1L739.7 229.8M544.9 102.1L544.9 379.5M994.6 132L994.6 410.7M544.9 379.5L739.7 506.6M739.7 506.6L994.6 410.7M888.2 448V219.2L972.6 186.8V414.4" stroke-width="4.6" stroke-linejoin="miter"/>
<path d="M676.5 192.5L728 226" stroke-width="3" stroke-dasharray="13 6" stroke-linecap="butt"/>
<path d="M780.8 150.6L676 190.6M780.8 150.6L863 204.6M756.6 244.6L863 204.6M676 307.1L756.6 359.6M756.6 359.6L818 336.5" stroke-width="2.8"/>
<path d="M676 190.6L676 307.1M863 204.6L863 319.6M756.6 244.6L756.6 359.6" stroke-width="3" stroke-dasharray="12 5.5" stroke-linecap="butt"/>
<path d="M826 333.5L863 319.6" stroke-width="2.6" stroke-dasharray="16 9" stroke-linecap="butt"/>
<circle cx="797" cy="25.7" r="11.9" fill="#0000fa" stroke="none"/>
<circle cx="564.1" cy="115.1" r="11.9" fill="#0000fa" stroke="none"/>
<circle cx="975.2" cy="142.5" r="11.9" fill="#0000fa" stroke="none"/>
<circle cx="742.2" cy="231.6" r="11.9" fill="#0000fa" stroke="none"/>
<path d="M739.7 229.8L994.6 132M739.7 229.8L739.7 506.6M544.9 102.1L590 131M725 220.2L739.7 229.8" stroke-width="4.6"/>
</g>
<g id="pc">
<path d="M1299.9 34.8V489.3M1446.4 34.8V489.3M1592.9 34.8V489.3M1739.4 34.8V489.3M1885.9 34.8V489.3M1153.4 398.4H1950M1153.4 307.5H1950M1153.4 216.6H1950M1153.4 125.7H1950M1153.4 34.8H1950" stroke="#e0e0e0" stroke-width="1.3" fill="none"/>
<path d="M1153.5 306.7C1154.4 306.7 1157.8 307.9 1159.3 306.7C1160.7 305.6 1160.9 308.3 1162 299.9C1163.2 291.5 1164.9 265.1 1166.2 256.2C1167.5 247.3 1168.6 248.4 1169.7 246.5C1170.7 244.5 1171.5 243.3 1172.4 244.5C1173.3 245.8 1173.9 242.9 1175 253.8C1176.1 264.6 1177.7 296.3 1178.9 309.6C1180.1 323 1181.3 328.5 1182.4 333.9C1183.4 339.3 1184.3 341.5 1185.2 341.9C1186 342.3 1186.6 344.2 1187.7 336.3C1188.8 328.5 1190.2 307.2 1191.6 295.1C1193.1 282.9 1194.9 271.6 1196.3 263.5C1197.6 255.4 1198.7 250 1199.7 246.5C1200.7 242.9 1201.4 241.3 1202.3 242.1C1203.2 242.9 1203.9 240.9 1205.1 251.3C1206.2 261.8 1207.7 291.8 1209 304.8C1210.2 317.7 1211.5 323.4 1212.5 329.1C1213.4 334.7 1214 339.3 1214.8 338.8C1215.5 338.3 1216.2 328.6 1217.1 326.1C1217.9 323.7 1219 321.3 1219.9 324.2C1220.7 327.1 1221.3 335.1 1222.2 343.6C1223.1 352.1 1224.2 366.1 1225.2 375.2C1226.2 384.3 1227.4 392.7 1228.2 398.3C1229 403.9 1229.3 408.7 1229.8 408.7C1230.3 408.7 1230.6 409.1 1231.4 398.3C1232.2 387.4 1233.3 362.5 1234.4 343.6C1235.5 324.8 1236.7 297.9 1237.9 285.3C1239.1 272.8 1240.4 274 1241.4 268.3C1242.3 262.7 1242.9 255.2 1243.7 251.3C1244.4 247.5 1245.1 245.3 1246 245.3C1246.9 245.3 1248 247.1 1249 251.3C1250 255.6 1250.7 262.7 1251.8 270.8C1252.8 278.9 1254.1 290.2 1255.2 299.9C1256.4 309.6 1257.7 316.1 1258.7 329.1C1259.8 342 1260.7 366.3 1261.5 377.6C1262.3 389 1262.9 398.7 1263.6 397.1C1264.3 395.4 1264.8 380.1 1265.7 367.9C1266.5 355.8 1267.5 336.3 1268.4 324.2C1269.4 312.1 1270.5 302.7 1271.4 295.1C1272.3 287.4 1273 282.5 1273.7 278.1C1274.5 273.6 1275.3 276.8 1276.1 268.3C1276.8 259.8 1277.7 234.9 1278.4 227.1C1279.1 219.2 1279.6 219.8 1280.2 221C1280.9 222.2 1281.5 227.3 1282.3 234.3C1283.2 241.4 1284.3 255.4 1285.3 263.5C1286.3 271.6 1287.3 276.8 1288.1 282.9C1288.9 289.1 1289.1 297.5 1289.9 300.4C1290.8 303.3 1292.3 299.7 1293.4 300.4C1294.6 301.1 1295.9 303.8 1296.9 304.8C1297.8 305.7 1298.4 301.9 1299.2 306C1300 310 1300.6 320.4 1301.5 329.1C1302.4 337.8 1303.6 350.4 1304.5 358.2C1305.4 366 1306.1 373.7 1306.8 375.7C1307.6 377.6 1308.3 375.2 1309.1 369.9C1310 364.5 1310.9 353.3 1311.9 343.6C1313 334 1314.3 319.4 1315.4 312.1C1316.5 304.7 1317.4 300.4 1318.4 299.4C1319.4 298.4 1320.3 302.7 1321.2 306C1322 309.3 1322.8 314.9 1323.5 319.3C1324.2 323.8 1324.6 330.3 1325.3 332.7C1326 335.1 1326.9 336.5 1327.6 333.9C1328.4 331.3 1329.2 322.3 1330 316.9C1330.7 311.6 1331.4 304.3 1332.3 301.9C1333.1 299.4 1334.1 301.3 1335 302.3C1336 303.4 1337 307.2 1337.8 308.4C1338.6 309.6 1339 305.4 1339.7 309.6C1340.4 313.9 1341.1 325 1342 333.9C1342.8 342.8 1344 357.4 1344.8 363.1C1345.5 368.7 1345.9 369.1 1346.6 367.9C1347.3 366.7 1348 361.4 1348.9 355.8C1349.9 350.1 1351.3 342 1352.4 333.9C1353.5 325.8 1354.4 314 1355.4 307.2C1356.4 300.4 1357.2 293.9 1358.2 293.1C1359.1 292.3 1360 298.4 1360.9 302.3C1361.9 306.3 1363.2 315.3 1364 316.9C1364.7 318.5 1365.1 310.8 1365.6 312.1C1366.1 313.4 1366.3 324.3 1367 324.7C1367.6 325.1 1368.4 317.8 1369.3 314.5C1370.2 311.2 1371.5 308.8 1372.5 304.8C1373.6 300.7 1374.6 292.4 1375.5 290.2C1376.4 288 1377.1 292.4 1377.8 291.4C1378.6 290.4 1379.3 285 1380.1 284.4C1381 283.8 1382.2 285.2 1383.2 287.8C1384.1 290.4 1384.9 294.7 1385.9 299.9C1387 305.2 1388.2 315 1389.4 319.3C1390.6 323.7 1391.8 325.7 1392.9 326.1C1393.9 326.6 1394.7 324.1 1395.6 321.8C1396.6 319.4 1397.6 314.6 1398.7 312.1C1399.7 309.6 1401.2 306.5 1402.1 306.7C1403.1 306.9 1403.6 313 1404.4 313.3C1405.3 313.6 1406.2 310.2 1407.2 308.4C1408.2 306.6 1408.8 304.2 1410.2 302.3C1411.6 300.5 1414.2 297.5 1415.5 297.5C1416.9 297.5 1417.3 299.1 1418.3 302.3C1419.4 305.6 1420.4 311.9 1421.8 316.9C1423.1 322 1425.3 329.9 1426.4 332.7C1427.6 335.5 1427.8 332.1 1428.7 333.9C1429.7 335.7 1431.1 342.4 1432.2 343.6C1433.2 344.8 1433.8 344.8 1435 341.2C1436.1 337.6 1437.7 327.6 1439.1 321.8C1440.5 315.9 1442.1 309.6 1443.3 306C1444.4 302.4 1445.1 301.9 1446.1 300.4C1447.1 298.9 1448.1 296.7 1449.2 297.3C1450.3 297.8 1451.3 301.3 1452.5 303.5C1453.7 305.7 1455.2 308.5 1456.5 310.4C1457.7 312.2 1458.8 314.5 1459.7 314.5C1460.7 314.5 1461.6 316.3 1462.4 310.4C1463.2 304.5 1463.8 297.1 1464.7 279.3C1465.6 261.4 1467 222.3 1468 203.3C1468.9 184.3 1469.6 172.2 1470.3 165.3C1471 158.3 1471.5 157.8 1472.3 161.8C1473 165.8 1473.6 169.3 1474.6 189.4C1475.5 209.6 1476.8 256.3 1477.8 282.7C1478.9 309.2 1480 333.4 1481.1 348.4C1482.2 363.4 1483.5 367.1 1484.4 372.6C1485.4 378.1 1485.9 381.8 1486.7 381.2C1487.6 380.7 1488.4 380.4 1489.4 369.1C1490.4 357.9 1491.6 335.7 1492.7 313.8C1493.8 292 1495 257.4 1495.9 237.8C1496.9 218.2 1497.9 204.7 1498.6 196.4C1499.3 188 1499.6 184.8 1500.2 187.7C1500.9 190.6 1501.6 194.9 1502.5 213.6C1503.5 232.3 1504.7 275.3 1505.8 300C1506.9 324.8 1508 347.8 1509.1 362.2C1510.2 376.6 1511.3 383.5 1512.4 386.4C1513.5 389.3 1514.7 383.5 1515.7 379.5C1516.7 375.5 1517.5 366.3 1518.3 362.2C1519.2 358.2 1519.9 358.1 1520.6 355.3C1521.4 352.6 1522.1 345.6 1522.9 345.6C1523.8 345.6 1524.8 352.3 1525.6 355.3C1526.3 358.4 1526.7 363.4 1527.5 364C1528.4 364.5 1529.2 360.8 1530.5 358.8C1531.8 356.8 1533.8 354.2 1535.4 351.9C1537.1 349.6 1538.8 347.1 1540.4 344.9C1541.9 342.8 1543.3 339 1544.7 338.7C1546 338.4 1547.1 341.6 1548.6 343.2C1550.1 344.8 1552.2 348.7 1553.5 348.4C1554.9 348.1 1555.7 346.4 1556.8 341.5C1557.9 336.6 1559 323.6 1560.1 319C1561.2 314.4 1562.3 313.3 1563.4 313.8C1564.5 314.4 1565.4 320.5 1566.7 322.5C1568 324.5 1569.6 325.8 1571 325.9C1572.4 326.1 1573.8 325.1 1574.9 323.5C1576 322 1576.7 318.1 1577.6 316.6C1578.4 315.1 1579.1 313.3 1579.9 314.5C1580.7 315.8 1581.7 320.9 1582.5 324.2C1583.3 327.6 1583.9 331.1 1584.8 334.6C1585.7 338 1587.1 339.2 1588.1 344.9C1589.1 350.7 1589.9 360.2 1590.7 369.1C1591.6 378.1 1592.4 392.8 1593 398.5C1593.7 404.3 1594 405.1 1594.7 403.7C1595.4 402.3 1596.3 400.2 1597.3 389.9C1598.3 379.5 1599.7 353.9 1600.6 341.5C1601.5 329.1 1602.3 320.2 1602.9 315.6C1603.6 311 1603.7 313 1604.6 313.8C1605.4 314.7 1606.9 320.2 1607.8 320.8C1608.8 321.3 1609.5 318.2 1610.5 317.3C1611.4 316.4 1612.5 313.3 1613.4 315.6C1614.4 317.9 1615.1 319.9 1616.1 331.1C1617.1 342.4 1618.4 370.9 1619.4 383C1620.3 395.1 1621 400 1621.7 403.7C1622.4 407.4 1622.9 406.6 1623.6 405.4C1624.4 404.3 1625 405.7 1625.9 396.8C1626.9 387.9 1628.1 366.8 1629.2 351.9C1630.3 336.9 1631.6 317 1632.5 306.9C1633.5 296.9 1634 292.5 1634.8 291.4C1635.7 290.2 1636.5 296.6 1637.5 300C1638.5 303.5 1639.7 309 1640.8 312.1C1641.9 315.3 1643.1 320.2 1644.1 319C1645 317.9 1645.9 309.1 1646.7 305.2C1647.5 301.3 1648 295.6 1648.7 295.9C1649.3 296.2 1649.9 302.5 1650.6 306.9C1651.4 311.4 1652.3 318.7 1653.3 322.5C1654.3 326.2 1655.6 322.8 1656.6 329.4C1657.5 336 1657.9 349.8 1658.9 362.2C1659.8 374.6 1661.1 394.2 1662.2 403.7C1663.2 413.2 1664.2 420.4 1665.1 419.2C1666 418.1 1666.9 410.9 1667.7 396.8C1668.6 382.7 1669.5 362.2 1670.4 334.6C1671.3 306.9 1672.1 265.5 1673 230.9C1673.9 196.4 1674.9 150 1675.6 127.2C1676.4 104.4 1677.1 100.6 1677.6 94.1C1678.2 87.6 1678.4 86.6 1678.9 88.2C1679.5 89.8 1680.1 88.6 1680.9 103.7C1681.7 118.9 1682.7 149.2 1683.5 179.1C1684.4 208.9 1685.3 251.1 1686.2 282.7C1687.1 314.4 1687.9 346.7 1688.8 369.1C1689.7 391.6 1690.6 406.9 1691.4 417.5C1692.3 428.2 1693.2 433 1694.1 433.1C1694.9 433.1 1695.7 429.5 1696.6 417.7C1697.4 405.9 1698.3 384.8 1699.2 362.4C1700.1 339.9 1701 309.4 1701.9 282.9C1702.7 256.3 1703.6 226.4 1704.5 203.3C1705.4 180.3 1706.2 160.7 1707.1 144.6C1708 128.4 1708.9 114.9 1709.8 106.5C1710.6 98.2 1711.3 93.9 1712.1 94.4C1712.8 95 1713.7 97 1714.4 110C1715.1 122.9 1715.7 148.6 1716.3 172.2C1717 195.8 1717.7 228.1 1718.3 251.7C1719 275.4 1719.6 299.8 1720.3 314C1721 328.1 1721.5 333.8 1722.3 336.4C1723 339 1723.9 331.5 1724.9 329.5C1725.9 327.5 1727.2 330.4 1728.2 324.3C1729.2 318.3 1730 303.6 1730.8 293.2C1731.7 282.9 1732.5 269.9 1733.5 262.1C1734.5 254.3 1735.8 246 1736.8 246.5C1737.7 247.1 1738.5 256.6 1739.4 265.6C1740.3 274.5 1741 289.8 1742 300.1C1743 310.5 1744.3 321.6 1745.3 327.8C1746.4 334 1747.3 337.5 1748.3 337.5C1749.3 337.5 1750.2 332.9 1751.2 327.8C1752.3 322.7 1753.5 316.3 1754.5 307.1C1755.6 297.8 1756.6 280.7 1757.5 272.5C1758.4 264.3 1759.2 259.1 1760.1 258C1761.1 256.8 1762.1 259.7 1763.1 265.6C1764.1 271.4 1765.2 284 1766.4 293.2C1767.6 302.4 1769.1 314.3 1770.3 320.9C1771.6 327.5 1772.8 333 1774 333C1775.1 333 1776.2 324.3 1777.3 320.9C1778.4 317.4 1779.6 311.7 1780.5 312.2C1781.5 312.8 1781.9 318.3 1782.9 324.3C1783.8 330.4 1784.9 342.2 1786.1 348.5C1787.4 354.9 1788.9 362.9 1790.1 362.4C1791.3 361.8 1792.2 353.1 1793.4 345.1C1794.6 337 1796.1 321.2 1797.3 314C1798.5 306.8 1799.8 304.6 1800.6 301.9C1801.5 299.1 1801.8 296.6 1802.6 297.4C1803.4 298.1 1804.1 304.2 1805.2 306.4C1806.3 308.5 1808.1 306.9 1809.2 310.5C1810.3 314.1 1811 319.2 1811.8 327.8C1812.7 336.4 1813.6 354.9 1814.5 362.4C1815.3 369.9 1815.9 373.9 1816.8 372.7C1817.6 371.6 1818.5 362.4 1819.4 355.5C1820.3 348.5 1821.3 337.5 1822.4 331.3C1823.4 325 1824.8 320.5 1825.7 318.1C1826.5 315.7 1826.9 314 1827.6 316.7C1828.3 319.5 1829.2 327.1 1829.9 334.7C1830.7 342.3 1831.4 356 1832.2 362.4C1833.1 368.7 1834.1 371.6 1834.9 372.7C1835.7 373.9 1836.4 376.8 1837.2 369.3C1838 361.8 1838.7 347.4 1839.5 327.8C1840.3 308.2 1841.2 274.2 1842.1 251.7C1843 229.3 1843.9 205.6 1844.8 193C1845.6 180.3 1846.3 173.9 1847.1 175.7C1847.8 177.4 1848.5 187.2 1849.4 203.3C1850.2 219.5 1851.1 248.3 1852 272.5C1852.9 296.7 1853.9 331 1854.6 348.5C1855.4 366.1 1856 372 1856.6 377.9C1857.2 383.8 1857.7 385.2 1858.3 383.8C1858.9 382.4 1859.5 383.2 1860.2 369.3C1860.9 355.3 1861.7 327.2 1862.5 300.1C1863.4 273.1 1864.4 229.6 1865.2 206.8C1865.9 184 1866.5 172.3 1867.1 163.6C1867.7 154.8 1868.2 152.7 1868.8 154.2C1869.3 155.8 1869.7 157.8 1870.4 172.9C1871.2 188 1872.2 224.2 1873.1 244.8C1874 265.4 1874.8 284 1875.7 296.7C1876.6 309.4 1877.5 313.3 1878.3 320.9C1879.2 328.5 1880 339.4 1881 342.3C1882 345.2 1883.2 341.2 1884.3 338.2C1885.4 335.2 1886.4 327.8 1887.6 324.3C1888.8 320.9 1890 318.5 1891.5 317.4C1893 316.4 1895.5 316.4 1896.8 318.1C1898.1 319.8 1898.3 325.1 1899.4 327.8C1900.5 330.4 1902.4 330.6 1903.4 334C1904.4 337.5 1904.7 344.9 1905.3 348.5C1906 352.2 1906.5 357.9 1907.3 356.1C1908.1 354.4 1909.1 345.2 1910 338.2C1910.8 331.1 1911.8 318.7 1912.6 314C1913.4 309.2 1914 309.5 1914.9 309.8C1915.8 310.1 1916.6 314.7 1917.9 315.7C1919.1 316.7 1921.4 317.1 1922.5 315.7C1923.6 314.3 1923.8 310.3 1924.4 307.1C1925.1 303.8 1925.5 297.9 1926.4 296C1927.3 294 1928.8 293.6 1929.7 295.3C1930.6 297 1930.8 304.7 1931.7 306.4C1932.6 308 1933.9 306.1 1935.3 305.3C1936.7 304.6 1938.8 303.8 1940.2 301.9C1941.7 300 1942.8 295.4 1944.2 293.9C1945.6 292.5 1947.2 292.6 1948.5 293.2C1949.7 293.9 1951.2 297 1951.8 297.7" stroke="#0072bd" stroke-width="2.5" fill="none" stroke-linejoin="round"/>
<path d="M1153.5 306.8C1154.4 306.8 1157.8 307.8 1159.3 306.8C1160.7 305.7 1160.9 308.3 1162 300.3C1163.2 292.3 1164.9 267.1 1166.2 258.6C1167.5 250.2 1168.6 251.2 1169.7 249.4C1170.7 247.5 1171.5 246.4 1172.4 247.5C1173.3 248.7 1173.9 246 1175 256.3C1176.1 266.7 1177.7 296.8 1178.9 309.5C1180.1 322.3 1181.3 327.5 1182.4 332.7C1183.4 337.8 1184.3 339.9 1185.2 340.3C1186 340.7 1186.6 342.4 1187.7 335C1188.8 327.5 1190.2 307.2 1191.6 295.7C1193.1 284.1 1194.9 273.3 1196.3 265.6C1197.6 257.9 1198.7 252.8 1199.7 249.4C1200.7 246 1201.4 244.5 1202.3 245.2C1203.2 246 1203.9 244.1 1205.1 254C1206.2 264 1207.7 292.6 1209 304.9C1210.2 317.2 1211.5 322.6 1212.5 328C1213.4 333.4 1214 337.7 1214.8 337.3C1215.5 336.8 1216.2 327.6 1217.1 325.3C1217.9 322.9 1219 320.6 1219.9 323.4C1220.7 326.2 1221.3 333.8 1222.2 341.9C1223.1 350 1224.2 363.3 1225.2 372C1226.2 380.7 1227.4 388.6 1228.2 394C1229 399.3 1229.3 403.9 1229.8 403.9C1230.3 403.9 1230.6 404.3 1231.4 394C1232.2 383.6 1233.3 359.8 1234.4 341.9C1235.5 324 1236.7 298.4 1237.9 286.4C1239.1 274.4 1240.4 275.6 1241.4 270.2C1242.3 264.8 1242.9 257.7 1243.7 254C1244.4 250.4 1245.1 248.2 1246 248.2C1246.9 248.2 1248 250 1249 254C1250 258.1 1250.7 264.8 1251.8 272.5C1252.8 280.2 1254.1 291 1255.2 300.3C1256.4 309.5 1257.7 315.7 1258.7 328C1259.8 340.4 1260.7 363.5 1261.5 374.3C1262.3 385.1 1262.9 394.3 1263.6 392.8C1264.3 391.3 1264.8 376.6 1265.7 365C1266.5 353.5 1267.5 335 1268.4 323.4C1269.4 311.8 1270.5 303 1271.4 295.7C1272.3 288.3 1273 283.7 1273.7 279.5C1274.5 275.2 1275.3 278.3 1276.1 270.2C1276.8 262.1 1277.7 238.4 1278.4 230.9C1279.1 223.4 1279.6 223.9 1280.2 225.1C1280.9 226.3 1281.5 231.1 1282.3 237.8C1283.2 244.6 1284.3 257.9 1285.3 265.6C1286.3 273.3 1287.3 278.2 1288.1 284.1C1288.9 289.9 1289.1 298 1289.9 300.7C1290.8 303.5 1292.3 300 1293.4 300.7C1294.6 301.4 1295.9 304 1296.9 304.9C1297.8 305.8 1298.4 302.2 1299.2 306.1C1300 309.9 1300.6 319.7 1301.5 328C1302.4 336.3 1303.6 348.4 1304.5 355.8C1305.4 363.2 1306.1 370.6 1306.8 372.4C1307.6 374.3 1308.3 372 1309.1 366.9C1310 361.8 1310.9 351.1 1311.9 341.9C1313 332.7 1314.3 318.9 1315.4 311.8C1316.5 304.8 1317.4 300.8 1318.4 299.8C1319.4 298.9 1320.3 302.9 1321.2 306.1C1322 309.2 1322.8 314.5 1323.5 318.8C1324.2 323 1324.6 329.2 1325.3 331.5C1326 333.8 1326.9 335.2 1327.6 332.7C1328.4 330.2 1329.2 321.6 1330 316.5C1330.7 311.4 1331.4 304.4 1332.3 302.1C1333.1 299.8 1334.1 301.5 1335 302.6C1336 303.6 1337 307.2 1337.8 308.4C1338.6 309.5 1339 305.5 1339.7 309.5C1340.4 313.6 1341.1 324.2 1342 332.7C1342.8 341.1 1344 355 1344.8 360.4C1345.5 365.8 1345.9 366.2 1346.6 365C1347.3 363.9 1348 358.9 1348.9 353.5C1349.9 348.1 1351.3 340.4 1352.4 332.7C1353.5 324.9 1354.4 313.7 1355.4 307.2C1356.4 300.7 1357.2 294.6 1358.2 293.8C1359.1 293 1360 298.8 1360.9 302.6C1361.9 306.4 1363.2 314.9 1364 316.5C1364.7 318 1365.1 310.6 1365.6 311.8C1366.1 313.1 1366.3 323.5 1367 323.9C1367.6 324.3 1368.4 317.3 1369.3 314.2C1370.2 311 1371.5 308.8 1372.5 304.9C1373.6 301 1374.6 293.1 1375.5 291C1376.4 288.9 1377.1 293.1 1377.8 292.2C1378.6 291.3 1379.3 286.1 1380.1 285.5C1381 284.9 1382.2 286.2 1383.2 288.7C1384.1 291.2 1384.9 295.3 1385.9 300.3C1387 305.3 1388.2 314.6 1389.4 318.8C1390.6 322.9 1391.8 324.9 1392.9 325.3C1393.9 325.6 1394.7 323.3 1395.6 321.1C1396.6 318.9 1397.6 314.2 1398.7 311.8C1399.7 309.5 1401.2 306.6 1402.1 306.8C1403.1 306.9 1403.6 312.7 1404.4 313C1405.3 313.3 1406.2 310.1 1407.2 308.4C1408.2 306.6 1408.8 304.3 1410.2 302.6C1411.6 300.9 1414.2 298 1415.5 298C1416.9 298 1417.3 299.5 1418.3 302.6C1419.4 305.7 1420.4 311.6 1421.8 316.5C1423.1 321.3 1425.3 328.8 1426.4 331.5C1427.6 334.2 1427.8 330.9 1428.7 332.7C1429.7 334.4 1431.1 340.8 1432.2 341.9C1433.2 343.1 1433.8 343.1 1435 339.6C1436.1 336.1 1437.7 326.7 1439.1 321.1C1440.5 315.5 1442.1 309.5 1443.3 306.1C1444.4 302.7 1445.1 302.1 1446.1 300.7C1447.1 299.4 1448.1 297.3 1449.2 297.7C1450.3 298.2 1451.3 301.6 1452.5 303.7C1453.7 305.8 1455.2 308.5 1456.5 310.3C1457.7 312 1458.8 314.2 1459.7 314.2C1460.7 314.2 1461.6 315.8 1462.4 310.3C1463.2 304.7 1463.8 297.6 1464.7 280.6C1465.6 263.6 1467 226.3 1468 208.2C1468.9 190.1 1469.6 178.6 1470.3 172C1471 165.4 1471.5 164.9 1472.3 168.7C1473 172.6 1473.6 175.9 1474.6 195.1C1475.5 214.3 1476.8 258.7 1477.8 283.9C1478.9 309.2 1480 332.2 1481.1 346.5C1482.2 360.7 1483.5 364.3 1484.4 369.5C1485.4 374.7 1485.9 378.3 1486.7 377.7C1487.6 377.2 1488.4 376.9 1489.4 366.2C1490.4 355.5 1491.6 334.4 1492.7 313.5C1493.8 292.7 1495 259.8 1495.9 241.1C1496.9 222.5 1497.9 209.6 1498.6 201.6C1499.3 193.7 1499.6 190.7 1500.2 193.4C1500.9 196.2 1501.6 200.3 1502.5 218.1C1503.5 235.9 1504.7 276.8 1505.8 300.4C1506.9 324 1508 345.9 1509.1 359.6C1510.2 373.3 1511.3 379.9 1512.4 382.7C1513.5 385.4 1514.7 379.9 1515.7 376.1C1516.7 372.2 1517.5 363.5 1518.3 359.6C1519.2 355.8 1519.9 355.7 1520.6 353C1521.4 350.4 1522.1 343.8 1522.9 343.8C1523.8 343.8 1524.8 350.1 1525.6 353C1526.3 355.9 1526.7 360.7 1527.5 361.3C1528.4 361.8 1529.2 358.2 1530.5 356.3C1531.8 354.4 1533.8 351.9 1535.4 349.7C1537.1 347.6 1538.8 345.2 1540.4 343.2C1541.9 341.1 1543.3 337.5 1544.7 337.2C1546 337 1547.1 340 1548.6 341.5C1550.1 343.1 1552.2 346.7 1553.5 346.5C1554.9 346.2 1555.7 344.5 1556.8 339.9C1557.9 335.2 1559 322.9 1560.1 318.5C1561.2 314.1 1562.3 313 1563.4 313.5C1564.5 314.1 1565.4 319.9 1566.7 321.8C1568 323.7 1569.6 324.9 1571 325.1C1572.4 325.2 1573.8 324.2 1574.9 322.8C1576 321.3 1576.7 317.6 1577.6 316.2C1578.4 314.8 1579.1 313 1579.9 314.2C1580.7 315.4 1581.7 320.2 1582.5 323.4C1583.3 326.6 1583.9 330 1584.8 333.3C1585.7 336.6 1587.1 337.7 1588.1 343.2C1589.1 348.6 1589.9 357.7 1590.7 366.2C1591.6 374.7 1592.4 388.7 1593 394.2C1593.7 399.7 1594 400.5 1594.7 399.1C1595.4 397.7 1596.3 395.8 1597.3 385.9C1598.3 376.1 1599.7 351.7 1600.6 339.9C1601.5 328.1 1602.3 319.6 1602.9 315.2C1603.6 310.8 1603.7 312.7 1604.6 313.5C1605.4 314.4 1606.9 319.6 1607.8 320.1C1608.8 320.7 1609.5 317.7 1610.5 316.8C1611.4 316 1612.5 313 1613.4 315.2C1614.4 317.4 1615.1 319.3 1616.1 330C1617.1 340.7 1618.4 367.8 1619.4 379.4C1620.3 390.9 1621 395.5 1621.7 399.1C1622.4 402.7 1622.9 401.9 1623.6 400.8C1624.4 399.7 1625 401 1625.9 392.5C1626.9 384 1628.1 364 1629.2 349.7C1630.3 335.5 1631.6 316.6 1632.5 307C1633.5 297.4 1634 293.2 1634.8 292.2C1635.7 291.1 1636.5 297.1 1637.5 300.4C1638.5 303.7 1639.7 308.9 1640.8 311.9C1641.9 314.9 1643.1 319.6 1644.1 318.5C1645 317.4 1645.9 309 1646.7 305.3C1647.5 301.6 1648 296.2 1648.7 296.4C1649.3 296.7 1649.9 302.7 1650.6 307C1651.4 311.2 1652.3 318.2 1653.3 321.8C1654.3 325.3 1655.6 322 1656.6 328.4C1657.5 334.7 1657.9 347.8 1658.9 359.6C1659.8 371.4 1661.1 390.1 1662.2 399.1C1663.2 408.2 1664.2 415 1665.1 413.9C1666 412.8 1666.9 406 1667.7 392.5C1668.6 379.1 1669.5 359.6 1670.4 333.3C1671.3 307 1672.1 267.5 1673 234.6C1673.9 201.6 1674.9 157.5 1675.6 135.8C1676.4 114.1 1677.1 110.4 1677.6 104.2C1678.2 98 1678.4 97.1 1678.9 98.6C1679.5 100.2 1680.1 99 1680.9 113.4C1681.7 127.9 1682.7 156.8 1683.5 185.2C1684.4 213.6 1685.3 253.8 1686.2 283.9C1687.1 314.1 1687.9 344.8 1688.8 366.2C1689.7 387.6 1690.6 402.1 1691.4 412.3C1692.3 422.4 1693.2 427.1 1694.1 427.1C1694.9 427.1 1695.7 423.7 1696.6 412.4C1697.4 401.2 1698.3 381.2 1699.2 359.8C1700.1 338.4 1701 309.3 1701.9 284C1702.7 258.8 1703.6 230.2 1704.5 208.3C1705.4 186.3 1706.2 167.7 1707.1 152.3C1708 137 1708.9 124.1 1709.8 116.1C1710.6 108.1 1711.3 104 1712.1 104.6C1712.8 105.1 1713.7 107 1714.4 119.4C1715.1 131.7 1715.7 156.2 1716.3 178.7C1717 201.2 1717.7 231.9 1718.3 254.4C1719 276.9 1719.6 300.2 1720.3 313.7C1721 327.1 1721.5 332.6 1722.3 335.1C1723 337.5 1723.9 330.4 1724.9 328.5C1725.9 326.6 1727.2 329.3 1728.2 323.5C1729.2 317.8 1730 303.8 1730.8 293.9C1731.7 284 1732.5 271.7 1733.5 264.3C1734.5 256.9 1735.8 248.9 1736.8 249.5C1737.7 250 1738.5 259.1 1739.4 267.6C1740.3 276.1 1741 290.6 1742 300.5C1743 310.4 1744.3 320.9 1745.3 326.8C1746.4 332.8 1747.3 336 1748.3 336C1749.3 336 1750.2 331.7 1751.2 326.8C1752.3 322 1753.5 315.9 1754.5 307.1C1755.6 298.3 1756.6 281.9 1757.5 274.1C1758.4 266.4 1759.2 261.4 1760.1 260.3C1761.1 259.2 1762.1 262 1763.1 267.6C1764.1 273.2 1765.2 285.1 1766.4 293.9C1767.6 302.7 1769.1 313.9 1770.3 320.2C1771.6 326.6 1772.8 331.8 1774 331.8C1775.1 331.8 1776.2 323.5 1777.3 320.2C1778.4 317 1779.6 311.5 1780.5 312C1781.5 312.6 1781.9 317.8 1782.9 323.5C1783.8 329.3 1784.9 340.5 1786.1 346.6C1787.4 352.6 1788.9 360.3 1790.1 359.8C1791.3 359.2 1792.2 351 1793.4 343.3C1794.6 335.6 1796.1 320.5 1797.3 313.7C1798.5 306.8 1799.8 304.8 1800.6 302.1C1801.5 299.5 1801.8 297.1 1802.6 297.9C1803.4 298.6 1804.1 304.3 1805.2 306.4C1806.3 308.5 1808.1 307 1809.2 310.4C1810.3 313.8 1811 318.6 1811.8 326.8C1812.7 335.1 1813.6 352.6 1814.5 359.8C1815.3 366.9 1815.9 370.7 1816.8 369.6C1817.6 368.5 1818.5 359.8 1819.4 353.2C1820.3 346.6 1821.3 336 1822.4 330.1C1823.4 324.2 1824.8 319.9 1825.7 317.6C1826.5 315.3 1826.9 313.7 1827.6 316.3C1828.3 318.9 1829.2 326.2 1829.9 333.4C1830.7 340.7 1831.4 353.7 1832.2 359.8C1833.1 365.8 1834.1 368.5 1834.9 369.6C1835.7 370.7 1836.4 373.5 1837.2 366.3C1838 359.2 1838.7 345.5 1839.5 326.8C1840.3 308.2 1841.2 275.8 1842.1 254.4C1843 233 1843.9 210.5 1844.8 198.4C1845.6 186.3 1846.3 180.3 1847.1 182C1847.8 183.6 1848.5 192.9 1849.4 208.3C1850.2 223.7 1851.1 251.1 1852 274.1C1852.9 297.2 1853.9 329.8 1854.6 346.6C1855.4 363.3 1856 369 1856.6 374.6C1857.2 380.2 1857.7 381.5 1858.3 380.2C1858.9 378.8 1859.5 379.6 1860.2 366.3C1860.9 353.1 1861.7 326.3 1862.5 300.5C1863.4 274.7 1864.4 233.3 1865.2 211.6C1865.9 189.9 1866.5 178.8 1867.1 170.4C1867.7 162.1 1868.2 160.1 1868.8 161.5C1869.3 163 1869.7 164.9 1870.4 179.3C1871.2 193.7 1872.2 228.2 1873.1 247.8C1874 267.5 1874.8 285.1 1875.7 297.2C1876.6 309.3 1877.5 313 1878.3 320.2C1879.2 327.5 1880 337.9 1881 340.7C1882 343.4 1883.2 339.6 1884.3 336.7C1885.4 333.9 1886.4 326.8 1887.6 323.5C1888.8 320.2 1890 317.9 1891.5 317C1893 316 1895.5 316 1896.8 317.6C1898.1 319.3 1898.3 324.3 1899.4 326.8C1900.5 329.4 1902.4 329.5 1903.4 332.8C1904.4 336 1904.7 343.1 1905.3 346.6C1906 350.1 1906.5 355.5 1907.3 353.8C1908.1 352.2 1909.1 343.4 1910 336.7C1910.8 330 1911.8 318.2 1912.6 313.7C1913.4 309.2 1914 309.4 1914.9 309.7C1915.8 310 1916.6 314.4 1917.9 315.3C1919.1 316.2 1921.4 316.7 1922.5 315.3C1923.6 313.9 1923.8 310.2 1924.4 307.1C1925.1 303.9 1925.5 298.4 1926.4 296.5C1927.3 294.7 1928.8 294.2 1929.7 295.9C1930.6 297.5 1930.8 304.8 1931.7 306.4C1932.6 308 1933.9 306.1 1935.3 305.4C1936.7 304.7 1938.8 303.9 1940.2 302.1C1941.7 300.3 1942.8 295.9 1944.2 294.6C1945.6 293.2 1947.2 293.3 1948.5 293.9C1949.7 294.5 1951.2 297.5 1951.8 298.2" stroke="#d95319" stroke-width="2.3" fill="none" stroke-linejoin="round"/>
<path d="M1153.4 34.8V489.3H1950M1153.4 489.3h7M1153.4 398.4h7M1153.4 307.5h7M1153.4 216.6h7M1153.4 125.7h7M1153.4 34.8h7M1153.4 489.3v-7M1299.9 489.3v-7M1446.4 489.3v-7M1592.9 489.3v-7M1739.4 489.3v-7M1885.9 489.3v-7" stroke="#262626" stroke-width="1.5" fill="none"/>
<text x="1143.9" y="500.7" font-size="26.8" text-anchor="end">-40</text>
<text x="1143.9" y="409.8" font-size="26.8" text-anchor="end">-20</text>
<text x="1143.9" y="318.9" font-size="26.8" text-anchor="end">0</text>
<text x="1143.9" y="228" font-size="26.8" text-anchor="end">20</text>
<text x="1143.9" y="137.1" font-size="26.8" text-anchor="end">40</text>
<text x="1143.9" y="46.2" font-size="26.8" text-anchor="end">60</text>
<text x="1152.5" y="524.8" font-size="26.8" text-anchor="middle">0</text>
<text x="1299" y="524.8" font-size="26.8" text-anchor="middle">20</text>
<text x="1445.5" y="524.8" font-size="26.8" text-anchor="middle">40</text>
<text x="1592" y="524.8" font-size="26.8" text-anchor="middle">60</text>
<text x="1738.5" y="524.8" font-size="26.8" text-anchor="middle">80</text>
<text x="1885" y="524.8" font-size="26.8" text-anchor="middle">100</text>
<rect x="1688.4" y="43.9" width="253.1" height="63.2" fill="#fff" stroke="#262626" stroke-width="1.5"/>
<path d="M1692 60.1H1726" stroke="#0072bd" stroke-width="2.8"/>
<path d="M1692 91.3H1726" stroke="#d95319" stroke-width="2.8"/>
<text x="1727.5" y="69.3" font-size="24" text-anchor="start">Magnetometer data</text>
<text x="1727.5" y="100.3" font-size="24" text-anchor="start">Fit to model</text>
<text transform="translate(1095 262.2) rotate(-90)" font-size="29.5" text-anchor="middle">Change in field (nT)</text>
<text x="1552.3" y="562.7" font-size="29.5" text-anchor="middle">Time (s)</text>
</g>
<g id="pd">
<path d="M213.6 586.2V1040.3M353.6 586.2V1040.3M493.6 586.2V1040.3M633.6 586.2V1040.3M773.6 586.2V1040.3M74 939.4H870.9M74 838.5H870.9M74 737.6H870.9M74 636.7H870.9" stroke="#e0e0e0" stroke-width="1.3" fill="none"/>
<path d="M74 586.2V1040.3H870.9M74 1040.3h7M74 939.4h7M74 838.5h7M74 737.6h7M74 636.7h7M73.6 1040.3v-7M213.6 1040.3v-7M353.6 1040.3v-7M493.6 1040.3v-7M633.6 1040.3v-7M773.6 1040.3v-7" stroke="#262626" stroke-width="1.5" fill="none"/>
<text x="64.5" y="1051.7" font-size="26.8" text-anchor="end">-4</text>
<text x="64.5" y="950.8" font-size="26.8" text-anchor="end">-2</text>
<text x="64.5" y="849.9" font-size="26.8" text-anchor="end">0</text>
<text x="64.5" y="749" font-size="26.8" text-anchor="end">2</text>
<text x="64.5" y="648" font-size="26.8" text-anchor="end">4</text>
<text x="72.7" y="1075.8" font-size="26.8" text-anchor="middle">0</text>
<text x="212.7" y="1075.8" font-size="26.8" text-anchor="middle">20</text>
<text x="352.7" y="1075.8" font-size="26.8" text-anchor="middle">40</text>
<text x="492.7" y="1075.8" font-size="26.8" text-anchor="middle">60</text>
<text x="632.7" y="1075.8" font-size="26.8" text-anchor="middle">80</text>
<text x="772.7" y="1075.8" font-size="26.8" text-anchor="middle">100</text>
<polyline points="75.2,795.6 76,825.9 76.9,801.8 77.7,820.6 78.6,798.5 79.4,832.7 80.3,810.5 81.1,822.3 82,806 82.8,825.9 83.7,802.9 84.5,823.3 85.4,806.4 86.2,832.3 87.1,814.7 87.9,831.3 88.8,809 89.6,825.7 90.5,807.3 91.3,833 92.2,814.1 93,836.8 93.9,809.9 94.7,827.4 95.6,805.4 96.4,823.3 97.3,800.9 98.1,827.4 99,785.6 99.8,821.6 100.7,792.2 101.5,809 102.4,779.4 103.2,808.8 104.1,784.2 104.9,811.3 105.8,783.7 106.6,803.3 107.5,789.7 108.3,803.2 109.2,790.1 110,812.1 110.9,795.8 111.7,816.2 112.6,796.3 113.4,812.8 114.3,797.8 115.1,815.4 116,799.5 116.8,830.9 117.7,803.7 118.5,818 119.4,806.2 120.2,820.6 121.1,805.3 121.9,831.3 122.8,804.3 123.6,827.6 124.5,804.4 125.3,826.8 126.2,802.8 127,831.2 127.9,809.1 128.7,819.1 129.6,803.4 130.4,823 131.3,794.2 132.1,806.7 133,789.1 133.8,808.1 134.7,779.8 135.5,804.2 136.4,783.3 137.2,801.4 138.1,782.9 138.9,803.1 139.8,786.2 140.6,810.3 141.5,785.1 142.3,811.5 143.2,799.1 144,838.1 144.9,811.5 145.7,827.7 146.6,816.7 147.4,856.7 148.3,833.6 149.1,858.8 150,853.7 150.8,880.6 151.7,863.9 152.5,885.9 153.4,868.6 154.2,904.3 155.1,872.8 155.9,890.5 156.8,868 157.6,893.1 158.5,853.9 159.3,873.5 160.2,845.3 161,858.2 161.9,835.8 162.7,839.3 163.6,815.6 164.4,824.7 165.3,794.1 166.1,805.4 167,782.1 167.8,797.4 168.7,766.5 169.5,781.5 170.4,749.1 171.2,764 172.1,745.8 172.9,757.7 173.8,736.7 174.6,755.8 175.5,728.3 176.3,755.8 177.2,737.1 178,767.8 178.9,743.6 179.7,760.2 180.6,752.1 181.4,777.5 182.3,762.2 183.1,791.4 184,779 184.8,805.6 185.7,795.8 186.5,830.6 187.4,825.4 188.2,859.2 189.1,842.4 189.9,890.1 190.8,865.9 191.6,889.5 192.5,876.3 193.3,911.5 194.2,885.9 195,907.6 195.9,882.8 196.7,900.7 197.6,885.7 198.4,896.4 199.3,860.1 200.1,885 201,854.1 201.8,864.4 202.7,842.2 203.5,854.8 204.4,829.2 205.2,832.6 206.1,806.6 206.9,818.4 207.8,790.8 208.6,808.4 209.5,761.8 210.3,782.1 211.2,753.6 212,762 212.9,733 213.7,749.4 214.6,728 215.4,752.7 216.3,731.2 217.1,779.3 218,756 218.8,780.9 219.7,771.5 220.5,800.7 221.4,791.9 222.2,822.7 223.1,790.8 223.9,804 224.8,763.2 225.6,772.2 226.5,746.6 227.3,755.6 228.2,718.9 229,731.9 229.9,674.7 230.7,696.9 231.6,670.7 232.4,679.2 233.3,641.9 234.1,657.8 235,627.6 235.8,643.2 236.7,625.2 237.5,642.8 238.4,616.1 239.2,645.9 240.1,633.2 240.9,666.4 241.8,660.1 242.6,702.8 243.5,696.3 244.3,732.2 245.2,731.9 246,771 246.9,774.9 247.7,810.9 248.6,811.8 249.4,859.3 250.3,859.5 251.1,903.4 252,888.5 252.8,929.6 253.7,927.1 254.5,961.1 255.4,959 256.2,986 257.1,976.9 257.9,988.4 258.8,955.5 259.6,971.4 260.5,927.6 261.3,936.2 262.2,897.9 263,898.3 263.9,863.7 264.7,862.1 265.6,823.6 266.4,822.9 267.3,783.6 268.1,784.2 269,746.6 269.8,761 270.7,717.5 271.5,728.8 272.4,697.1 273.2,709.8 274.1,672.5 274.9,688.7 275.8,663.8 276.6,679.3 277.5,651.3 278.3,679.3 279.2,650.6 280,666.8 280.9,644.6 281.7,669.6 282.6,656.9 283.4,684.6 284.3,681.7 285.1,719.5 286,719.7 286.8,751.6 287.7,754.4 288.5,787.9 289.4,787.3 290.2,825.6 291.1,824.4 291.9,860.2 292.8,858.8 293.6,898.1 294.5,899.2 295.3,924.1 296.2,921.4 297,950 297.9,939.3 298.7,970.5 299.6,967.1 300.4,985 301.3,968.1 302.2,983.5 303,948.5 303.9,956.2 304.7,928.2 305.6,931.5 306.4,898.1 307.3,907.9 308.1,879.3 309,881.7 309.8,854.6 310.7,856.7 311.5,834.2 312.4,841 313.2,820.6 314.1,832.5 314.9,819.2 315.8,842.3 316.6,820.5 317.5,853.9 318.3,837.8 319.2,864.7 320,844.7 320.9,865.1 321.7,852.2 322.6,875.5 323.4,859.4 324.3,878.8 325.1,854.5 326,883.1 326.8,866.9 327.7,875.9 328.5,848.8 329.4,857.6 330.2,831.9 331.1,840.9 331.9,819.1 332.8,830.4 333.6,809.9 334.5,821.2 335.3,798.5 336.2,812 337,793.7 337.9,817 338.7,798.2 339.6,814.1 340.4,791.7 341.3,818.2 342.1,786.7 343,812.1 343.8,793 344.7,814.9 345.5,796.6 346.4,821 347.2,807.2 348.1,829.3 348.9,815.7 349.8,841.3 350.6,832.5 351.5,862 352.3,836.9 353.2,864.8 354,838.2 354.9,867.6 355.7,851.4 356.6,873.8 357.4,852.5 358.3,879.9 359.1,856.8 360,880.2 360.8,845.8 361.7,875.2 362.5,828.9 363.4,864.2 364.2,840.1 365.1,860.5 365.9,830.3 366.8,853.1 367.6,811.4 368.5,831.8 369.3,804.1 370.2,832.6 371,806.7 371.9,833.4 372.7,809.8 373.6,822.1 374.4,799.6 375.3,826.4 376.1,803.5 377,821.1 377.8,807.5 378.7,827.4 379.5,802.2 380.4,822.9 381.2,809.2 382.1,825.3 382.9,806 383.8,829.2 384.6,817.7 385.5,841.6 386.3,803 387.2,846.4 388,818.8 388.9,836.7 389.7,823.3 390.6,843.3 391.4,818.1 392.3,831.3 393.1,809 394,833.1 394.8,814.4 395.7,832.5 396.5,800.9 397.4,832.6 398.2,806.3 399.1,821 399.9,797.6 400.8,820.8 401.6,805.1 402.5,824.8 403.3,805.1 404.2,818 405,801.8 405.9,814.9 406.7,792.3 407.6,814.2 408.4,798.8 409.3,812.6 410.1,798 411,820.3 411.8,801.4 412.7,819 413.5,800.2 414.4,826.5 415.2,801.6 416.1,822.2 416.9,800.9 417.8,820.9 418.6,807.8 419.5,822.9 420.3,805.5 421.2,823.6 422,800.2 422.9,826.6 423.7,809.5 424.6,826.9 425.4,808.4 426.3,823.8 427.1,809.1 428,831.4 428.8,807.3 429.7,831.5 430.5,806.8 431.4,823.5 432.2,808.1 433.1,827.7 433.9,804.7 434.8,822.1 435.6,799.6 436.5,814.8 437.3,794.1 438.2,814.9 439,794.6 439.9,828.8 440.7,797.8 441.6,820.6 442.4,805 443.3,823.6 444.1,804.6 445,822.2 445.8,795.5 446.7,827.8 447.5,802.5 448.4,819.8 449.2,802.5 450.1,829.7 450.9,800.2 451.8,819.7 452.6,804.5 453.5,826.3 454.3,800.6 455.2,831.1 456,803.2 456.9,820.5 457.7,797.8 458.6,818 459.4,797.3 460.3,818.6 461.1,795.2 462,814 462.8,790.3 463.7,822.7 464.5,793.6 465.4,815.3 466.2,803.9 467.1,821.7 467.9,805.5 468.8,818.6 469.6,803.4 470.5,823.6 471.3,807.1 472.2,825.7 473,804.9 473.9,831.4 474.7,807.9 475.6,830.6 476.4,808.2 477.3,823.5 478.1,805.2 479,821.1 479.8,783.9 480.7,827.7 481.5,802 482.4,814.2 483.2,799.6 484.1,818.1 484.9,792.3 485.8,816 486.6,794.6 487.5,806.8 488.3,789.1 489.2,799.1 490,788.3 490.9,808.7 491.7,796.1 492.6,813.9 493.4,800.1 494.3,817.7 495.1,806.3 496,824 496.8,802.2 497.7,829.5 498.5,805.8 499.4,815 500.2,787.5 501.1,806.8 501.9,766.8 502.8,781.3 503.6,744.6 504.5,749.4 505.3,728.4 506.2,729.7 507,704 507.9,726.1 508.7,692.3 509.6,709.3 510.4,680.7 511.3,710.1 512.1,704.1 513,722.2 513.8,721.1 514.7,751.2 515.5,748.1 516.4,780 517.2,787.8 518.1,828.9 518.9,821.7 519.8,876.5 520.6,864.3 521.5,904.6 522.3,889.9 523.2,907.7 524,880.3 524.9,890.7 525.7,850.4 526.6,855.4 527.4,819.9 528.3,828 529.1,788.1 530,790.5 530.8,764.1 531.7,778.7 532.5,712.7 533.4,744.8 534.2,712 535.1,726.5 535.9,700.8 536.8,718.2 537.6,704.4 538.5,741.7 539.3,729.4 540.2,765 541,766.3 541.9,801.6 542.7,797.8 543.6,829.6 544.4,827.7 545.3,864.4 546.1,851.4 547,885.1 547.8,877.9 548.7,900.1 549.5,880.7 550.4,903.2 551.2,877.5 552.1,892.2 552.9,841.9 553.8,852.3 554.6,820.1 555.5,836.1 556.3,795.7 557.2,805.4 558,778.6 558.9,788.5 559.7,763.7 560.6,773.5 561.4,748 562.3,759.5 563.1,721.9 564,747.7 564.8,713.4 565.7,738.3 566.5,708.5 567.4,732.1 568.2,700.3 569.1,743.6 569.9,734.7 570.8,760.4 571.6,758.3 572.5,783.9 573.3,782.5 574.2,812.9 575,809.6 575.9,845.3 576.7,827.9 577.6,866.2 578.4,850.1 579.3,872.7 580.1,850.4 581,861.6 581.8,839.9 582.7,840 583.5,813.8 584.4,814.9 585.2,782.4 586.1,794.5 586.9,759.2 587.8,776.7 588.6,742.9 589.5,749.8 590.3,718.7 591.2,735.7 592,710.7 592.9,727.8 593.7,713.3 594.6,739.9 595.4,724.3 596.3,753.4 597.1,750.5 598,773.8 598.8,767.3 599.7,796.2 600.5,790.3 601.4,820.4 602.2,805 603.1,838.1 603.9,821.4 604.8,847.7 605.6,830.9 606.5,858.4 607.3,833.5 608.2,842.4 609,817.8 609.9,835.7 610.7,804.6 611.6,828.7 612.4,795.6 613.3,809.6 614.1,796.7 615,814.1 615.8,797.6 616.7,817.8 617.5,798.5 618.4,826.7 619.2,803.9 620.1,837 620.9,794.1 621.8,815.4 622.6,791 623.5,804.7 624.3,775.4 625.2,798.1 626,776.6 626.9,795.6 627.7,773.8 628.6,797.1 629.4,776.4 630.3,793.7 631.1,771.6 632,801.2 632.8,785.9 633.7,813 634.5,797.4 635.4,823.1 636.2,803.7 637.1,824.1 637.9,796.3 638.8,829.1 639.6,805.6 640.5,822.4 641.3,806.4 642.2,825.7 643,804.9 643.9,819.4 644.7,802.8 645.6,817.2 646.4,799.3 647.3,816 648.1,789.9 649,812.1 649.8,783.2 650.7,808.8 651.5,787 652.4,805.3 653.2,787.8 654.1,803.8 654.9,776.8 655.8,806.7 656.6,776.1 657.5,816.5 658.3,785.9 659.2,823.8 660,794.2 660.9,813.5 661.7,803.7 662.6,820.7 663.4,809 664.3,831.8 665.1,804.1 666,844.7 666.8,822.6 667.7,855.5 668.5,825 669.4,839.4 670.2,818.8 671.1,838.3 671.9,807 672.8,828.8 673.6,808.1 674.5,815.3 675.3,795.3 676.2,820 677,802.7 677.9,823.4 678.7,808.6 679.6,827.9 680.4,816.3 681.3,834.3 682.1,815.2 683,830.7 683.8,815.4 684.7,835.3 685.5,816.9 686.4,844.4 687.2,824.8 688.1,846.2 688.9,813.5 689.8,837.9 690.6,812.9 691.5,845.1 692.3,825.1 693.2,843.2 694,823.4 694.9,843.3 695.7,826.3 696.6,842.6 697.4,826.7 698.3,848 699.1,828.8 700,841.8 700.8,822.7 701.7,842.9 702.5,823.8 703.4,854.5 704.2,819.7 705.1,847.8 705.9,818.8 706.8,832.9 707.6,817.2 708.5,838.6 709.3,806.6 710.2,823.3 711,805.8 711.9,824.6 712.7,800.7 713.6,820.3 714.4,795.7 715.3,827.6 716.1,803.8 717,830.5 717.8,810.3 718.7,827.7 719.5,809.7 720.4,831.3 721.2,811.9 722.1,834.1 722.9,810.6 723.8,854.5 724.6,818.8 725.5,846.8 726.3,811 727.2,843 728,821.5 728.9,840.3 729.7,816.6 730.6,847.4 731.4,833.1 732.3,850.7 733.1,827.1 734,848.4 734.8,818.5 735.7,847.8 736.5,831.1 737.4,848.8 738.2,816.2 739.1,851.2 739.9,816.2 740.8,847.9 741.6,826.1 742.5,838.8 743.3,823.6 744.2,843.5 745,818.4 745.9,850.2 746.7,814.6 747.6,835.9 748.4,804.9 749.3,831.1 750.1,817 751,830.8 751.8,810.8 752.7,828.2 753.5,809.1 754.4,828.6 755.2,810.3 756.1,836.7 756.9,814.8 757.8,836.1 758.6,813.6 759.5,830.4 760.3,814.7 761.2,842.8 762,816.8 762.9,840.8 763.7,823 764.6,842.9 765.4,818.4 766.3,851.7 767.1,821.9 768,840.6 768.8,815.8 769.7,840.7 770.5,819.5 771.4,840 772.2,812.7 773.1,842.3 773.9,817.2 774.8,836.3 775.6,814.9 776.5,837.1 777.3,803.5 778.2,832.2 779,807.3 779.9,823.3 780.7,793.8 781.6,815.9 782.4,786.7 783.3,818.1 784.1,798.4 785,818.4 785.8,795.1 786.7,822.8 787.5,807 788.4,830.4 789.2,788.8 790.1,822.3 790.9,797.5 791.8,813.6 792.6,790.3 793.5,816.7 794.3,793.6 795.2,818.8 796,797 796.9,816.4 797.7,802.2 798.6,830.9 799.4,804.6 800.3,822.9 801.1,807.8 802,834.3 802.8,814.6 803.7,834.2 804.5,814 805.4,836.5 806.2,810.3 807.1,826.5 807.9,807.5 808.8,822.8 809.6,804.6 810.5,826.4 811.3,803.9 812.2,821.4 813,802.7 813.9,828.1 814.7,799.2 815.6,821.8 816.4,788.5 817.3,818.2 818.1,800.6 819,820.8 819.8,798 820.7,817.3 821.5,802.1 822.4,819.6 823.2,802 824.1,826 824.9,808.4 825.8,834.8 826.6,809.7 827.5,832.6 828.3,808.2 829.2,832.7 830,813.3 830.9,841.3 831.7,814.3 832.6,838.1 833.4,815.3 834.3,832.5 835.1,813.1 836,831.4 836.8,811.9 837.7,827.3 838.5,799.3 839.4,825.5 840.2,802.3 841.1,826.4 841.9,800.3 842.8,825.7 843.6,811 844.5,826.8 845.3,808.2 846.2,833 847,803.3 847.9,822.4 848.7,807.7 849.6,830.8 850.4,797.4 851.3,820.4 852.1,802 853,822.1 853.8,803.3 854.7,821.3 855.5,805.9 856.4,844.5 857.2,816.4 858.1,831.6 858.9,804.6 859.8,835.4 860.6,818.4 861.5,835.6 862.3,822.6 863.2,837.1 864,822.2 864.9,841.4 865.7,822.2 866.6,835.2 867.4,811.8 868.3,843.8 869.1,821.5 870,834.5 870.8,821.8" stroke="#ff0000" stroke-width="2.4" fill="none" stroke-linejoin="round"/>
<polyline points="75.2,828.1 76,865 76.9,833.2 77.7,852.9 78.6,828.8 79.4,863.3 80.3,831 81.1,856.9 82,832.4 82.8,861.1 83.7,835.5 84.5,866 85.4,834.5 86.2,855.9 87.1,836 87.9,855.2 88.8,826.3 89.6,859.3 90.5,831.2 91.3,870.2 92.2,824.2 93,858.5 93.9,825.3 94.7,866.6 95.6,823.5 96.4,855.4 97.3,834.7 98.1,858.7 99,834.6 99.8,867.3 100.7,829.2 101.5,866.2 102.4,830.7 103.2,860.6 104.1,832.1 104.9,856.7 105.8,827.4 106.6,857.9 107.5,820.4 108.3,875.9 109.2,835.2 110,857 110.9,834.2 111.7,853 112.6,827.7 113.4,854.3 114.3,835.3 115.1,861.1 116,827.4 116.8,853.1 117.7,835.6 118.5,859.6 119.4,831.4 120.2,876.5 121.1,834.7 121.9,860.2 122.8,831.3 123.6,862.2 124.5,831.8 125.3,866.4 126.2,827.3 127,864.7 127.9,833.8 128.7,857 129.6,837 130.4,871.6 131.3,837.4 132.1,863.2 133,828.2 133.8,863.4 134.7,833.8 135.5,869 136.4,838.1 137.2,867.8 138.1,834.8 138.9,855.1 139.8,833.3 140.6,865.7 141.5,819.6 142.3,875.6 143.2,833.7 144,867.8 144.9,829.8 145.7,863.7 146.6,838.1 147.4,855.4 148.3,830.5 149.1,864.1 150,830.4 150.8,864.1 151.7,837.4 152.5,860.8 153.4,835.3 154.2,860.6 155.1,822.1 155.9,864.6 156.8,836 157.6,861.2 158.5,835.1 159.3,855.4 160.2,828.5 161,868.5 161.9,833.3 162.7,855.5 163.6,834.9 164.4,857.6 165.3,831.9 166.1,864.4 167,832 167.8,856.3 168.7,826 169.5,854.8 170.4,826.3 171.2,873.6 172.1,813 172.9,854.7 173.8,838.6 174.6,854.4 175.5,833.5 176.3,859.9 177.2,826.5 178,854.7 178.9,831.3 179.7,866.3 180.6,833.7 181.4,864 182.3,820.1 183.1,858.6 184,833.1 184.8,861.4 185.7,839.6 186.5,864.5 187.4,832 188.2,855.3 189.1,834.5 189.9,881.8 190.8,828.6 191.6,863.7 192.5,838.4 193.3,860.1 194.2,838.9 195,864.4 195.9,831.6 196.7,860.9 197.6,837.9 198.4,869.8 199.3,834.8 200.1,864 201,832.5 201.8,857.6 202.7,830.7 203.5,862.2 204.4,834.6 205.2,865.8 206.1,830.4 206.9,864.6 207.8,834.1 208.6,858.1 209.5,837 210.3,868.4 211.2,834.9 212,866.1 212.9,832.1 213.7,862.6 214.6,838.8 215.4,856.8 216.3,838.6 217.1,859.1 218,836.1 218.8,861.5 219.7,833.1 220.5,860.2 221.4,836.5 222.2,859.9 223.1,836 223.9,854.9 224.8,832.2 225.6,856.4 226.5,825.8 227.3,855.4 228.2,837.4 229,854.9 229.9,833.6 230.7,858 231.6,834.8 232.4,858.3 233.3,829 234.1,857.7 235,830.5 235.8,857 236.7,829.2 237.5,859.5 238.4,830.9 239.2,859.3 240.1,829.6 240.9,863 241.8,824.6 242.6,855.8 243.5,824.6 244.3,855.7 245.2,833 246,863.1 246.9,818.4 247.7,859.9 248.6,829.4 249.4,855.1 250.3,834.3 251.1,861.7 252,826.1 252.8,860.5 253.7,824.4 254.5,859.4 255.4,831 256.2,851.5 257.1,825.7 257.9,858.6 258.8,828.4 259.6,868.1 260.5,831.7 261.3,866.9 262.2,833.1 263,855.1 263.9,829 264.7,865.7 265.6,826.9 266.4,866.9 267.3,826.2 268.1,855.3 269,828 269.8,853.5 270.7,826.8 271.5,856.2 272.4,823 273.2,861 274.1,816.7 274.9,862.3 275.8,827.5 276.6,853.8 277.5,827.1 278.3,856 279.2,823.2 280,861.8 280.9,824.7 281.7,864.1 282.6,828.7 283.4,850.4 284.3,822.8 285.1,862 286,831.6 286.8,855.7 287.7,832.4 288.5,851 289.4,824.1 290.2,852.3 291.1,825 291.9,852.6 292.8,829.7 293.6,853.7 294.5,824.9 295.3,852.5 296.2,835.2 297,854.6 297.9,830.3 298.7,860.5 299.6,827.9 300.4,855 301.3,827 302.2,859.8 303,818 303.9,856 304.7,834.2 305.6,862.3 306.4,822.5 307.3,865.7 308.1,826.1 309,857.9 309.8,834.1 310.7,858.7 311.5,837.9 312.4,860.4 313.2,830.5 314.1,859.2 314.9,831.9 315.8,871.6 316.6,821.6 317.5,861.5 318.3,836 319.2,863.2 320,837 320.9,859.5 321.7,828.5 322.6,859.1 323.4,836.2 324.3,863 325.1,826.7 326,857.6 326.8,821.1 327.7,869.7 328.5,830 329.4,864.4 330.2,835.9 331.1,856.6 331.9,833.4 332.8,864.5 333.6,835.7 334.5,860.1 335.3,837.3 336.2,858.3 337,837.5 337.9,865.4 338.7,837.6 339.6,863 340.4,831 341.3,860.8 342.1,837.6 343,855 343.8,831.8 344.7,857.8 345.5,835.7 346.4,861.2 347.2,834.7 348.1,859.3 348.9,832.3 349.8,861.9 350.6,834.9 351.5,868.7 352.3,834.6 353.2,859.2 354,830.4 354.9,856.2 355.7,836.6 356.6,860.9 357.4,830.6 358.3,863.7 359.1,834.9 360,870 360.8,832.5 361.7,868.1 362.5,831.8 363.4,865.9 364.2,815.8 365.1,866 365.9,829.9 366.8,864.1 367.6,830.2 368.5,860.7 369.3,837 370.2,863.8 371,838.7 371.9,867.8 372.7,832.9 373.6,885.9 374.4,828.9 375.3,863 376.1,837.4 377,861.6 377.8,834.7 378.7,867.2 379.5,836.6 380.4,866 381.2,838.6 382.1,866 382.9,838.1 383.8,867.5 384.6,824.8 385.5,869.2 386.3,825 387.2,857.4 388,838.5 388.9,875.9 389.7,823.4 390.6,867.9 391.4,833.5 392.3,863.7 393.1,828.5 394,866.4 394.8,839.3 395.7,858.3 396.5,831.5 397.4,870.2 398.2,836.5 399.1,857.8 399.9,822.7 400.8,857.9 401.6,836.5 402.5,855.6 403.3,836.9 404.2,861.7 405,828.6 405.9,864.5 406.7,835.9 407.6,861.3 408.4,837.8 409.3,860.8 410.1,833.4 411,862.4 411.8,836.3 412.7,860.3 413.5,825.9 414.4,862.1 415.2,836.5 416.1,859.6 416.9,837.2 417.8,863.6 418.6,826.6 419.5,874.3 420.3,836 421.2,857.5 422,829.4 422.9,865.5 423.7,827.6 424.6,867.8 425.4,838.4 426.3,859.6 427.1,841.1 428,864.7 428.8,833.3 429.7,861.2 430.5,831.3 431.4,878.3 432.2,834.8 433.1,869.2 433.9,833.5 434.8,871.2 435.6,839.6 436.5,863.1 437.3,834 438.2,859 439,828.2 439.9,873.1 440.7,840 441.6,866.8 442.4,832.9 443.3,867.2 444.1,831.7 445,869.5 445.8,840.7 446.7,863 447.5,831.2 448.4,857.4 449.2,833.5 450.1,865.2 450.9,837.8 451.8,871.1 452.6,829 453.5,861.9 454.3,826.6 455.2,865.6 456,832 456.9,859.6 457.7,829.1 458.6,869.4 459.4,831.8 460.3,870.6 461.1,827.3 462,857.7 462.8,835.5 463.7,854.7 464.5,831.2 465.4,857.6 466.2,833.1 467.1,855.3 467.9,826.6 468.8,857 469.6,819.5 470.5,846.9 471.3,824 472.2,854 473,830.3 473.9,858.1 474.7,818 475.6,847.7 476.4,825.3 477.3,848.1 478.1,819.4 479,851.4 479.8,824.6 480.7,864.3 481.5,826.7 482.4,864.5 483.2,829 484.1,867.5 484.9,826.8 485.8,849.8 486.6,822.4 487.5,847.6 488.3,824.5 489.2,851.2 490,836.4 490.9,851.8 491.7,830.9 492.6,869.1 493.4,828.6 494.3,860.8 495.1,827.3 496,862.8 496.8,828.4 497.7,857.8 498.5,836.1 499.4,863.3 500.2,828.1 501.1,864.1 501.9,842.3 502.8,865.7 503.6,835.3 504.5,860.6 505.3,829.3 506.2,867.2 507,824.8 507.9,863 508.7,841.6 509.6,870.9 510.4,837.5 511.3,868.7 512.1,828.4 513,853.9 513.8,834.3 514.7,858.3 515.5,827.2 516.4,857.4 517.2,830.9 518.1,854.9 518.9,833.6 519.8,866.3 520.6,834.4 521.5,870.6 522.3,839.6 523.2,860.3 524,840.7 524.9,858.1 525.7,839.6 526.6,858.8 527.4,833.7 528.3,876.7 529.1,832.4 530,870.8 530.8,835.4 531.7,860.5 532.5,833.8 533.4,863.4 534.2,830.4 535.1,861.4 535.9,832.6 536.8,872.5 537.6,824.3 538.5,862.2 539.3,834.7 540.2,864.3 541,840.3 541.9,874.5 542.7,831.2 543.6,866.2 544.4,837.2 545.3,860.6 546.1,832.9 547,862.8 547.8,830.3 548.7,857.6 549.5,828 550.4,863 551.2,839.6 552.1,864.4 552.9,823.5 553.8,872.8 554.6,834 555.5,864.5 556.3,832.7 557.2,863.1 558,837.5 558.9,859.5 559.7,832.4 560.6,855.9 561.4,834.1 562.3,854.9 563.1,831.1 564,862.8 564.8,827.9 565.7,867 566.5,831.2 567.4,858.1 568.2,836 569.1,865.6 569.9,829.4 570.8,859.6 571.6,828.6 572.5,863.1 573.3,829.2 574.2,858 575,829.9 575.9,867.5 576.7,829.1 577.6,860.1 578.4,830.2 579.3,869.1 580.1,833.6 581,857.9 581.8,837.7 582.7,866.1 583.5,833.6 584.4,859.7 585.2,836.4 586.1,857.3 586.9,826.5 587.8,859.4 588.6,834.5 589.5,862 590.3,831.4 591.2,871 592,828.9 592.9,861 593.7,831.9 594.6,866.3 595.4,835.8 596.3,865.8 597.1,836.7 598,868.2 598.8,836.4 599.7,864.4 600.5,835.4 601.4,857.1 602.2,834.5 603.1,859 603.9,835.8 604.8,862.6 605.6,835.2 606.5,858.5 607.3,836.6 608.2,863.9 609,827.9 609.9,852.8 610.7,829.5 611.6,868.2 612.4,821 613.3,854.1 614.1,832.1 615,856.8 615.8,830.6 616.7,864.2 617.5,827.2 618.4,857.2 619.2,829.8 620.1,853.6 620.9,834.5 621.8,858 622.6,823 623.5,856.5 624.3,815.3 625.2,854.5 626,830.5 626.9,852.8 627.7,821.5 628.6,851.7 629.4,829.9 630.3,856.7 631.1,830.8 632,863.1 632.8,826.3 633.7,855.2 634.5,825.2 635.4,853.8 636.2,829.1 637.1,862.2 637.9,828.5 638.8,879.5 639.6,829.2 640.5,851.4 641.3,828.1 642.2,859.5 643,831.2 643.9,853.9 644.7,830.8 645.6,858.5 646.4,828.4 647.3,849.6 648.1,823.8 649,856.6 649.8,818.6 650.7,852.4 651.5,825 652.4,852.7 653.2,811.4 654.1,854.2 654.9,826.7 655.8,865 656.6,826.8 657.5,870.1 658.3,837.4 659.2,864.6 660,832.3 660.9,856.4 661.7,832.4 662.6,861.3 663.4,832.5 664.3,856.6 665.1,834.3 666,859 666.8,835.3 667.7,888.8 668.5,826.6 669.4,856.4 670.2,831.4 671.1,867.3 671.9,828.4 672.8,864.2 673.6,827.2 674.5,864 675.3,830.7 676.2,871.5 677,832.3 677.9,866.6 678.7,828.2 679.6,871.7 680.4,836.8 681.3,864.8 682.1,832.9 683,853.1 683.8,834.7 684.7,865.9 685.5,825.4 686.4,858.8 687.2,829 688.1,869.1 688.9,826.4 689.8,864.9 690.6,831 691.5,859.7 692.3,836.3 693.2,858 694,827.1 694.9,863.5 695.7,828.6 696.6,864.1 697.4,836.6 698.3,858.7 699.1,834.9 700,859.7 700.8,837.9 701.7,859.8 702.5,834.1 703.4,858.4 704.2,835.5 705.1,855.1 705.9,835 706.8,864.9 707.6,831.4 708.5,861.3 709.3,829 710.2,856.8 711,836.7 711.9,864 712.7,831 713.6,864.8 714.4,833.6 715.3,867.1 716.1,825.7 717,860.8 717.8,833.5 718.7,865.8 719.5,822.6 720.4,867.8 721.2,836.6 722.1,868.2 722.9,831.1 723.8,865.7 724.6,836.2 725.5,862.8 726.3,837.7 727.2,863.9 728,834.2 728.9,859.6 729.7,840.2 730.6,864.7 731.4,829.8 732.3,858.9 733.1,829.9 734,864.1 734.8,838.1 735.7,863.3 736.5,829.3 737.4,859.4 738.2,834.2 739.1,862.7 739.9,838.7 740.8,870.5 741.6,836.8 742.5,867.7 743.3,831.8 744.2,855.4 745,838.8 745.9,869.1 746.7,832.9 747.6,864.1 748.4,832.2 749.3,854.1 750.1,835.5 751,860.7 751.8,831.6 752.7,861.9 753.5,821.1 754.4,857.4 755.2,832.9 756.1,863.9 756.9,835.5 757.8,865.5 758.6,829.8 759.5,865.3 760.3,828.9 761.2,860.3 762,831.9 762.9,859.6 763.7,832.2 764.6,858.9 765.4,827.4 766.3,872 767.1,832.6 768,856.1 768.8,825.9 769.7,859.6 770.5,827.2 771.4,854.8 772.2,833.5 773.1,859.7 773.9,830.4 774.8,854.6 775.6,833.1 776.5,855.3 777.3,833.6 778.2,854.1 779,825.3 779.9,859 780.7,832.4 781.6,862.5 782.4,827.4 783.3,861 784.1,823.5 785,856.3 785.8,826.9 786.7,854.9 787.5,830.5 788.4,857.8 789.2,829.7 790.1,852.5 790.9,832.7 791.8,860.7 792.6,832.2 793.5,854.4 794.3,829.5 795.2,857.8 796,827.1 796.9,868.2 797.7,828.2 798.6,849.3 799.4,830.3 800.3,853.9 801.1,834.6 802,851.6 802.8,834.5 803.7,864 804.5,826.6 805.4,859.6 806.2,828.8 807.1,866.2 807.9,819.8 808.8,853.4 809.6,832.2 810.5,858.8 811.3,829.7 812.2,852 813,830.1 813.9,859 814.7,830.4 815.6,864.3 816.4,823.1 817.3,862.3 818.1,816.8 819,859.2 819.8,824.7 820.7,853.2 821.5,825.7 822.4,867.7 823.2,824.7 824.1,862.5 824.9,835 825.8,856.5 826.6,833.8 827.5,851.8 828.3,830.5 829.2,857 830,832.3 830.9,860.7 831.7,825.7 832.6,869.6 833.4,825.4 834.3,853.1 835.1,819.6 836,855.3 836.8,824.7 837.7,857.7 838.5,824.9 839.4,849.8 840.2,831.4 841.1,847.7 841.9,826.8 842.8,853.8 843.6,822.1 844.5,847.4 845.3,823.4 846.2,859.1 847,821.6 847.9,839.6 848.7,811.2 849.6,862.9 850.4,816.8 851.3,846.9 852.1,810.3 853,834.9 853.8,810.8 854.7,838.9 855.5,815.9 856.4,839.7 857.2,807.3 858.1,846.5 858.9,813.1 859.8,831.7 860.6,805.6 861.5,835.2 862.3,814.7 863.2,839.4 864,814.4 864.9,836.8 865.7,802.7 866.6,833.3 867.4,814.3 868.3,842.8 869.1,807.3 870,839.6 870.8,809.7 871.7,851.8" stroke="#0000ff" stroke-width="2.4" fill="none" stroke-linejoin="round"/>
<rect x="710.1" y="594.9" width="152" height="63.7" fill="#fff" stroke="#262626" stroke-width="1.5"/>
<path d="M713 611.3H747.5" stroke="#ff0000" stroke-width="2.8"/>
<path d="M713 642.3H747.5" stroke="#0000ff" stroke-width="2.8"/>
<text x="749.3" y="620.6" font-size="24" text-anchor="start">Coils OFF</text>
<text x="749.3" y="651.2" font-size="24" text-anchor="start">Coils ON</text>
<text transform="translate(31 813) rotate(-90)" font-size="29.5" text-anchor="middle">Change in field (nT)</text>
<text x="472.5" y="1113.5" font-size="29.5" text-anchor="middle">Time (s)</text>
</g>
<g id="pe">
<path d="M1149 609.9V1040.2M1287.7 609.9V1040.2M1004 977.7H1432.7M1004 915.1H1432.7M1004 852.6H1432.7M1004 790H1432.7M1004 727.5H1432.7M1004 664.9H1432.7" stroke="#e0e0e0" stroke-width="1.3" fill="none"/>
<rect x="1113.6" y="656.2" width="72" height="385.2" fill="#ff0000"/>
<rect x="1252.1" y="997" width="72.1" height="44.4" fill="#0000ff"/>
<path d="M1004 609.9V1040.2H1432.7M1004 1040.2h7M1004 977.7h7M1004 915.1h7M1004 852.6h7M1004 790h7M1004 727.5h7M1004 664.9h7" stroke="#262626" stroke-width="1.5" fill="none"/>
<text x="994.5" y="1051.6" font-size="26.8" text-anchor="end">0</text>
<text x="994.5" y="989" font-size="26.8" text-anchor="end">1</text>
<text x="994.5" y="926.5" font-size="26.8" text-anchor="end">2</text>
<text x="994.5" y="863.9" font-size="26.8" text-anchor="end">3</text>
<text x="994.5" y="801.4" font-size="26.8" text-anchor="end">4</text>
<text x="994.5" y="738.8" font-size="26.8" text-anchor="end">5</text>
<text x="994.5" y="676.3" font-size="26.8" text-anchor="end">6</text>
<text x="1148.1" y="1077.4" font-size="26.8" text-anchor="middle">Coils OFF</text>
<text x="1286.8" y="1077.4" font-size="26.8" text-anchor="middle">Coils ON</text>
<rect x="1113.6" y="1038" width="72" height="3.4" fill="#ff0000"/>
<rect x="1252.1" y="1038" width="72.1" height="3.4" fill="#0000ff"/>
<path d="M1149 648V668.2" stroke="#000" stroke-width="4"/><path d="M1143.5 649.5h11M1143.5 666.7h11" stroke="#000" stroke-width="3"/>
<path d="M1287.7 987.2V1009.4" stroke="#000" stroke-width="4"/><path d="M1282.2 988.7h11M1282.2 1007.9h11" stroke="#000" stroke-width="3"/>
<text transform="translate(966 824) rotate(-90)" font-size="29.5" text-anchor="middle">Field magnitude (nT)</text>
</g>
<g id="pf">
<path d="M1731.8 609.9V1040.2M1865.2 609.9V1040.2M1594 974.3H2003.5M1594 908.4H2003.5M1594 842.5H2003.5M1594 776.6H2003.5M1594 710.7H2003.5M1594 644.8H2003.5" stroke="#e0e0e0" stroke-width="1.3" fill="none"/>
<rect x="1697.9" y="686.1" width="69.4" height="355.3" fill="#ff0000"/>
<rect x="1829.8" y="904.1" width="69.3" height="137.3" fill="#0000ff"/>
<path d="M1594 609.9V1040.2H2003.5M1594 1040.2h7M1594 974.3h7M1594 908.4h7M1594 842.5h7M1594 776.6h7M1594 710.7h7M1594 644.8h7" stroke="#262626" stroke-width="1.5" fill="none"/>
<text x="1584.5" y="1051.6" font-size="26.8" text-anchor="end">0</text>
<text x="1584.5" y="985.7" font-size="26.8" text-anchor="end">0.5</text>
<text x="1584.5" y="919.8" font-size="26.8" text-anchor="end">1</text>
<text x="1584.5" y="853.9" font-size="26.8" text-anchor="end">1.5</text>
<text x="1584.5" y="788" font-size="26.8" text-anchor="end">2</text>
<text x="1584.5" y="722.1" font-size="26.8" text-anchor="end">2.5</text>
<text x="1584.5" y="656.2" font-size="26.8" text-anchor="end">3</text>
<text x="1730.9" y="1077.4" font-size="26.8" text-anchor="middle">Coils OFF</text>
<text x="1864.3" y="1077.4" font-size="26.8" text-anchor="middle">Coils ON</text>
<rect x="1697.9" y="1038" width="69.4" height="3.4" fill="#ff0000"/>
<rect x="1829.8" y="1038" width="69.3" height="3.4" fill="#0000ff"/>
<path d="M1731.8 648V728.7" stroke="#000" stroke-width="4.5"/><path d="M1726.3 649.5h11M1726.3 727.2h11" stroke="#000" stroke-width="3"/>
<path d="M1865.2 844.6V967.3" stroke="#000" stroke-width="4.5"/><path d="M1859.7 846.1h11M1859.7 965.8h11" stroke="#000" stroke-width="3"/>
<text transform="translate(1534 825) rotate(-90)" font-size="29.5" text-anchor="middle">Field gradient magnitude (nT/m)</text>
</g>
<text transform="translate(32 69) scale(0.95 1)" font-size="39.5" text-anchor="start" style="fill:#000;stroke:#000;stroke-width:0.3px">a<tspan dx="2.3" dy="-2.4">)</tspan></text>
<text transform="translate(477 69) scale(0.95 1)" font-size="39.5" text-anchor="start" style="fill:#000;stroke:#000;stroke-width:0.3px">b<tspan dx="3.6" dy="-2.4">)</tspan></text>
<text transform="translate(1062.5 69) scale(0.95 1)" font-size="39.5" text-anchor="start" style="fill:#000;stroke:#000;stroke-width:0.3px">c<tspan dx="2.3" dy="-2.4">)</tspan></text>
<text transform="translate(2.5 619.5) scale(0.95 1)" font-size="39.5" text-anchor="start" style="fill:#000;stroke:#000;stroke-width:0.3px">d<tspan dx="3.0" dy="-2.4">)</tspan></text>
<text transform="translate(925.5 619.5) scale(0.95 1)" font-size="39.5" text-anchor="start" style="fill:#000;stroke:#000;stroke-width:0.3px">e<tspan dx="2.3" dy="-2.4">)</tspan></text>
<text transform="translate(1447.3 619.5) scale(0.95 1)" font-size="39.5" text-anchor="start" style="fill:#000;stroke:#000;stroke-width:0.3px">f<tspan dx="5.2" dy="-2.4">)</tspan></text>
</g>
</svg>
</body>
</html>
